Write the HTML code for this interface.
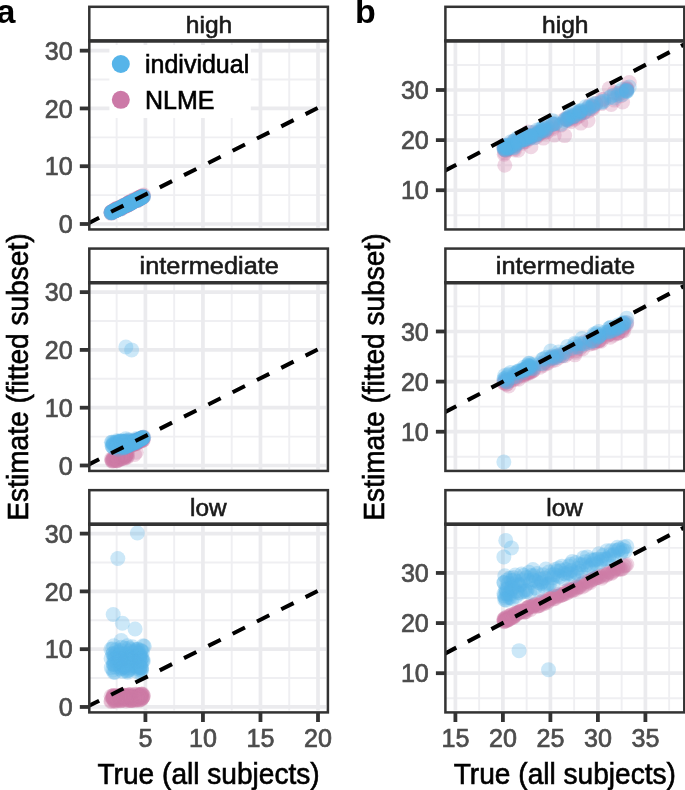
<!DOCTYPE html>
<html lang="en"><head><meta charset="utf-8"><title>Figure</title>
<style>
html,body{margin:0;padding:0;background:#fff;}
body{width:685px;height:790px;overflow:hidden;}
svg{display:block;}
</style></head><body>
<svg width="685" height="790" viewBox="0 0 685 790" font-family='"Liberation Sans", Arial, Helvetica, sans-serif'>
<rect width="685" height="790" fill="#fff"/>
<clipPath id="c1"><rect x="89.3" y="40.6" width="238.6" height="188.85"/></clipPath>
<g clip-path="url(#c1)">
<line x1="89.3" x2="326.1" y1="195.11" y2="195.11" stroke="#efeff2" stroke-width="1.9"/>
<line x1="89.3" x2="326.1" y1="137.33" y2="137.33" stroke="#efeff2" stroke-width="1.9"/>
<line x1="89.3" x2="326.1" y1="79.55" y2="79.55" stroke="#efeff2" stroke-width="1.9"/>
<line y1="40.6" y2="227.65" x1="116.66" x2="116.66" stroke="#efeff2" stroke-width="1.9"/>
<line y1="40.6" y2="227.65" x1="174.18" x2="174.18" stroke="#efeff2" stroke-width="1.9"/>
<line y1="40.6" y2="227.65" x1="231.71" x2="231.71" stroke="#efeff2" stroke-width="1.9"/>
<line y1="40.6" y2="227.65" x1="289.23" x2="289.23" stroke="#efeff2" stroke-width="1.9"/>
<line x1="89.3" x2="326.1" y1="224" y2="224" stroke="#ebebee" stroke-width="3.7"/>
<line x1="89.3" x2="326.1" y1="166.22" y2="166.22" stroke="#ebebee" stroke-width="3.7"/>
<line x1="89.3" x2="326.1" y1="108.44" y2="108.44" stroke="#ebebee" stroke-width="3.7"/>
<line x1="89.3" x2="326.1" y1="50.66" y2="50.66" stroke="#ebebee" stroke-width="3.7"/>
<line y1="40.6" y2="227.65" x1="145.42" x2="145.42" stroke="#ebebee" stroke-width="3.7"/>
<line y1="40.6" y2="227.65" x1="202.94" x2="202.94" stroke="#ebebee" stroke-width="3.7"/>
<line y1="40.6" y2="227.65" x1="260.47" x2="260.47" stroke="#ebebee" stroke-width="3.7"/>
<line y1="40.6" y2="227.65" x1="318" x2="318" stroke="#ebebee" stroke-width="3.7"/>
<circle cx="131.4" cy="202.02" r="7.5" fill="#CC79A7" fill-opacity="0.3"/>
<circle cx="140.32" cy="197.61" r="7.5" fill="#CC79A7" fill-opacity="0.3"/>
<circle cx="136.34" cy="200.08" r="7.5" fill="#CC79A7" fill-opacity="0.3"/>
<circle cx="118.29" cy="208.82" r="7.5" fill="#CC79A7" fill-opacity="0.3"/>
<circle cx="120.75" cy="208.89" r="7.5" fill="#CC79A7" fill-opacity="0.3"/>
<circle cx="139.55" cy="198.84" r="7.5" fill="#CC79A7" fill-opacity="0.3"/>
<circle cx="111.08" cy="212.11" r="7.5" fill="#CC79A7" fill-opacity="0.3"/>
<circle cx="137.83" cy="200.4" r="7.5" fill="#CC79A7" fill-opacity="0.3"/>
<circle cx="137.04" cy="198.73" r="7.5" fill="#CC79A7" fill-opacity="0.3"/>
<circle cx="126.25" cy="205.95" r="7.5" fill="#CC79A7" fill-opacity="0.3"/>
<circle cx="120.84" cy="206.93" r="7.5" fill="#CC79A7" fill-opacity="0.3"/>
<circle cx="120.03" cy="208.45" r="7.5" fill="#CC79A7" fill-opacity="0.3"/>
<circle cx="119.26" cy="207.71" r="7.5" fill="#CC79A7" fill-opacity="0.3"/>
<circle cx="125.5" cy="205.02" r="7.5" fill="#CC79A7" fill-opacity="0.3"/>
<circle cx="127.45" cy="205.2" r="7.5" fill="#CC79A7" fill-opacity="0.3"/>
<circle cx="129.05" cy="202.46" r="7.5" fill="#CC79A7" fill-opacity="0.3"/>
<circle cx="143.55" cy="195.05" r="7.5" fill="#CC79A7" fill-opacity="0.3"/>
<circle cx="136.9" cy="199.44" r="7.5" fill="#CC79A7" fill-opacity="0.3"/>
<circle cx="131.31" cy="202.39" r="7.5" fill="#CC79A7" fill-opacity="0.3"/>
<circle cx="143.33" cy="196.27" r="7.5" fill="#CC79A7" fill-opacity="0.3"/>
<circle cx="117.96" cy="209.57" r="7.5" fill="#CC79A7" fill-opacity="0.3"/>
<circle cx="116.16" cy="209.04" r="7.5" fill="#CC79A7" fill-opacity="0.3"/>
<circle cx="130.99" cy="202.73" r="7.5" fill="#CC79A7" fill-opacity="0.3"/>
<circle cx="112.35" cy="211.76" r="7.5" fill="#CC79A7" fill-opacity="0.3"/>
<circle cx="112.07" cy="212.41" r="7.5" fill="#CC79A7" fill-opacity="0.3"/>
<circle cx="127.79" cy="204.4" r="7.5" fill="#CC79A7" fill-opacity="0.3"/>
<circle cx="126.19" cy="205.65" r="7.5" fill="#CC79A7" fill-opacity="0.3"/>
<circle cx="140.98" cy="196.47" r="7.5" fill="#CC79A7" fill-opacity="0.3"/>
<circle cx="131.54" cy="202.19" r="7.5" fill="#CC79A7" fill-opacity="0.3"/>
<circle cx="127.76" cy="203.31" r="7.5" fill="#CC79A7" fill-opacity="0.3"/>
<circle cx="127.2" cy="204.25" r="7.5" fill="#CC79A7" fill-opacity="0.3"/>
<circle cx="119.02" cy="208.85" r="7.5" fill="#CC79A7" fill-opacity="0.3"/>
<circle cx="111.29" cy="212.48" r="7.5" fill="#CC79A7" fill-opacity="0.3"/>
<circle cx="117.21" cy="209.66" r="7.5" fill="#CC79A7" fill-opacity="0.3"/>
<circle cx="133.6" cy="201.04" r="7.5" fill="#CC79A7" fill-opacity="0.3"/>
<circle cx="117.48" cy="209.4" r="7.5" fill="#CC79A7" fill-opacity="0.3"/>
<circle cx="123.02" cy="206.57" r="7.5" fill="#CC79A7" fill-opacity="0.3"/>
<circle cx="111.03" cy="213.34" r="7.5" fill="#CC79A7" fill-opacity="0.3"/>
<circle cx="138.12" cy="199.33" r="7.5" fill="#CC79A7" fill-opacity="0.3"/>
<circle cx="115.97" cy="208.75" r="7.5" fill="#CC79A7" fill-opacity="0.3"/>
<circle cx="119.68" cy="208.5" r="7.5" fill="#CC79A7" fill-opacity="0.3"/>
<circle cx="139.77" cy="198.68" r="7.5" fill="#CC79A7" fill-opacity="0.3"/>
<circle cx="127.62" cy="203.82" r="7.5" fill="#CC79A7" fill-opacity="0.3"/>
<circle cx="138.68" cy="197.52" r="7.5" fill="#CC79A7" fill-opacity="0.3"/>
<circle cx="131.88" cy="202.92" r="7.5" fill="#CC79A7" fill-opacity="0.3"/>
<circle cx="135.23" cy="200.37" r="7.5" fill="#CC79A7" fill-opacity="0.3"/>
<circle cx="113.91" cy="211.38" r="7.5" fill="#CC79A7" fill-opacity="0.3"/>
<circle cx="128.65" cy="204.75" r="7.5" fill="#CC79A7" fill-opacity="0.3"/>
<circle cx="127.55" cy="203.57" r="7.5" fill="#CC79A7" fill-opacity="0.3"/>
<circle cx="139.48" cy="198.11" r="7.5" fill="#CC79A7" fill-opacity="0.3"/>
<circle cx="122.75" cy="206.45" r="7.5" fill="#CC79A7" fill-opacity="0.3"/>
<circle cx="130.52" cy="203.12" r="7.5" fill="#CC79A7" fill-opacity="0.3"/>
<circle cx="112.85" cy="211.15" r="7.5" fill="#CC79A7" fill-opacity="0.3"/>
<circle cx="123.62" cy="206.43" r="7.5" fill="#CC79A7" fill-opacity="0.3"/>
<circle cx="121.5" cy="207.22" r="7.5" fill="#CC79A7" fill-opacity="0.3"/>
<circle cx="115.83" cy="210.74" r="7.5" fill="#CC79A7" fill-opacity="0.3"/>
<circle cx="137.67" cy="199.84" r="7.5" fill="#CC79A7" fill-opacity="0.3"/>
<circle cx="123.35" cy="205.27" r="7.5" fill="#CC79A7" fill-opacity="0.3"/>
<circle cx="143" cy="196.68" r="7.5" fill="#CC79A7" fill-opacity="0.3"/>
<circle cx="130.25" cy="202.53" r="7.5" fill="#CC79A7" fill-opacity="0.3"/>
<circle cx="130.74" cy="202.5" r="7.5" fill="#CC79A7" fill-opacity="0.3"/>
<circle cx="131.82" cy="202.24" r="7.5" fill="#CC79A7" fill-opacity="0.3"/>
<circle cx="133.09" cy="201.66" r="7.5" fill="#CC79A7" fill-opacity="0.3"/>
<circle cx="115.85" cy="209.52" r="7.5" fill="#CC79A7" fill-opacity="0.3"/>
<circle cx="125.34" cy="205.4" r="7.5" fill="#CC79A7" fill-opacity="0.3"/>
<circle cx="118.76" cy="208.6" r="7.5" fill="#CC79A7" fill-opacity="0.3"/>
<circle cx="124.1" cy="205.8" r="7.5" fill="#CC79A7" fill-opacity="0.3"/>
<circle cx="114.08" cy="210.04" r="7.5" fill="#CC79A7" fill-opacity="0.3"/>
<circle cx="142.64" cy="196.03" r="7.5" fill="#CC79A7" fill-opacity="0.3"/>
<circle cx="117.95" cy="208.64" r="7.5" fill="#CC79A7" fill-opacity="0.3"/>
<circle cx="132.93" cy="201.77" r="7.5" fill="#CC79A7" fill-opacity="0.3"/>
<circle cx="120.76" cy="208.46" r="7.5" fill="#CC79A7" fill-opacity="0.3"/>
<circle cx="139.57" cy="197.39" r="7.5" fill="#CC79A7" fill-opacity="0.3"/>
<circle cx="132.62" cy="200.87" r="7.5" fill="#CC79A7" fill-opacity="0.3"/>
<circle cx="115.22" cy="210.37" r="7.5" fill="#CC79A7" fill-opacity="0.3"/>
<circle cx="138.61" cy="198.15" r="7.5" fill="#CC79A7" fill-opacity="0.3"/>
<circle cx="141.89" cy="196.34" r="7.5" fill="#CC79A7" fill-opacity="0.3"/>
<circle cx="140.54" cy="196.98" r="7.5" fill="#CC79A7" fill-opacity="0.3"/>
<circle cx="129.59" cy="202.42" r="7.5" fill="#CC79A7" fill-opacity="0.3"/>
<circle cx="115.67" cy="210.36" r="7.5" fill="#CC79A7" fill-opacity="0.3"/>
<circle cx="117.22" cy="208.22" r="7.5" fill="#CC79A7" fill-opacity="0.3"/>
<circle cx="141.33" cy="198.03" r="7.5" fill="#CC79A7" fill-opacity="0.3"/>
<circle cx="129.02" cy="202.75" r="7.5" fill="#CC79A7" fill-opacity="0.3"/>
<circle cx="116.83" cy="209.13" r="7.5" fill="#CC79A7" fill-opacity="0.3"/>
<circle cx="139.89" cy="197.28" r="7.5" fill="#CC79A7" fill-opacity="0.3"/>
<circle cx="131.94" cy="200.58" r="7.5" fill="#CC79A7" fill-opacity="0.3"/>
<circle cx="129.58" cy="202.03" r="7.5" fill="#CC79A7" fill-opacity="0.3"/>
<circle cx="123.24" cy="207.04" r="7.5" fill="#CC79A7" fill-opacity="0.3"/>
<circle cx="124.38" cy="206.85" r="7.5" fill="#CC79A7" fill-opacity="0.3"/>
<circle cx="118.76" cy="207.93" r="7.5" fill="#CC79A7" fill-opacity="0.3"/>
<circle cx="112.15" cy="212.52" r="7.5" fill="#CC79A7" fill-opacity="0.3"/>
<circle cx="139.64" cy="198.02" r="7.5" fill="#CC79A7" fill-opacity="0.3"/>
<circle cx="126.24" cy="204.16" r="7.5" fill="#CC79A7" fill-opacity="0.3"/>
<circle cx="128.86" cy="204.57" r="7.5" fill="#CC79A7" fill-opacity="0.3"/>
<circle cx="121.47" cy="208.6" r="7.5" fill="#CC79A7" fill-opacity="0.3"/>
<circle cx="135.54" cy="199.89" r="7.5" fill="#CC79A7" fill-opacity="0.3"/>
<circle cx="111.73" cy="212" r="7.5" fill="#CC79A7" fill-opacity="0.3"/>
<circle cx="123.11" cy="206.49" r="7.5" fill="#CC79A7" fill-opacity="0.3"/>
<circle cx="111.9" cy="211.92" r="7.5" fill="#CC79A7" fill-opacity="0.3"/>
<circle cx="114.93" cy="211.02" r="7.5" fill="#CC79A7" fill-opacity="0.3"/>
<circle cx="142.62" cy="197.57" r="7.5" fill="#CC79A7" fill-opacity="0.3"/>
<circle cx="132.47" cy="201.73" r="7.5" fill="#CC79A7" fill-opacity="0.3"/>
<circle cx="124.95" cy="206.07" r="7.5" fill="#CC79A7" fill-opacity="0.3"/>
<circle cx="128.08" cy="204.96" r="7.5" fill="#CC79A7" fill-opacity="0.3"/>
<circle cx="139.52" cy="197.72" r="7.5" fill="#CC79A7" fill-opacity="0.3"/>
<circle cx="122.19" cy="206.82" r="7.5" fill="#CC79A7" fill-opacity="0.3"/>
<circle cx="130.26" cy="202.44" r="7.5" fill="#CC79A7" fill-opacity="0.3"/>
<circle cx="133.32" cy="201.87" r="7.5" fill="#CC79A7" fill-opacity="0.3"/>
<circle cx="122.56" cy="207.05" r="7.5" fill="#CC79A7" fill-opacity="0.3"/>
<circle cx="127.93" cy="204.59" r="7.5" fill="#CC79A7" fill-opacity="0.3"/>
<circle cx="136" cy="200.46" r="7.5" fill="#CC79A7" fill-opacity="0.3"/>
<circle cx="140.72" cy="197.34" r="7.5" fill="#CC79A7" fill-opacity="0.3"/>
<circle cx="115.86" cy="210.5" r="7.5" fill="#CC79A7" fill-opacity="0.3"/>
<circle cx="141.51" cy="196.83" r="7.5" fill="#CC79A7" fill-opacity="0.3"/>
<circle cx="111.07" cy="212.12" r="7.5" fill="#CC79A7" fill-opacity="0.3"/>
<circle cx="135.59" cy="198.64" r="7.5" fill="#CC79A7" fill-opacity="0.3"/>
<circle cx="137.48" cy="200.06" r="7.5" fill="#CC79A7" fill-opacity="0.3"/>
<circle cx="115.39" cy="209.58" r="7.5" fill="#CC79A7" fill-opacity="0.3"/>
<circle cx="124.64" cy="205.61" r="7.5" fill="#CC79A7" fill-opacity="0.3"/>
<circle cx="137.64" cy="199.03" r="7.5" fill="#CC79A7" fill-opacity="0.3"/>
<circle cx="131.4" cy="202.94" r="7.5" fill="#56B4E9" fill-opacity="0.3"/>
<circle cx="140.32" cy="198.12" r="7.5" fill="#56B4E9" fill-opacity="0.3"/>
<circle cx="136.34" cy="199.7" r="7.5" fill="#56B4E9" fill-opacity="0.3"/>
<circle cx="118.29" cy="209.05" r="7.5" fill="#56B4E9" fill-opacity="0.3"/>
<circle cx="120.75" cy="207.76" r="7.5" fill="#56B4E9" fill-opacity="0.3"/>
<circle cx="139.55" cy="198.45" r="7.5" fill="#56B4E9" fill-opacity="0.3"/>
<circle cx="111.08" cy="212.25" r="7.5" fill="#56B4E9" fill-opacity="0.3"/>
<circle cx="137.83" cy="199.22" r="7.5" fill="#56B4E9" fill-opacity="0.3"/>
<circle cx="137.04" cy="200.37" r="7.5" fill="#56B4E9" fill-opacity="0.3"/>
<circle cx="126.25" cy="205.27" r="7.5" fill="#56B4E9" fill-opacity="0.3"/>
<circle cx="120.84" cy="208.43" r="7.5" fill="#56B4E9" fill-opacity="0.3"/>
<circle cx="120.03" cy="209.28" r="7.5" fill="#56B4E9" fill-opacity="0.3"/>
<circle cx="119.26" cy="208.72" r="7.5" fill="#56B4E9" fill-opacity="0.3"/>
<circle cx="125.5" cy="204.94" r="7.5" fill="#56B4E9" fill-opacity="0.3"/>
<circle cx="127.45" cy="204.41" r="7.5" fill="#56B4E9" fill-opacity="0.3"/>
<circle cx="129.05" cy="204.02" r="7.5" fill="#56B4E9" fill-opacity="0.3"/>
<circle cx="143.55" cy="196.67" r="7.5" fill="#56B4E9" fill-opacity="0.3"/>
<circle cx="136.9" cy="199.29" r="7.5" fill="#56B4E9" fill-opacity="0.3"/>
<circle cx="131.31" cy="202.43" r="7.5" fill="#56B4E9" fill-opacity="0.3"/>
<circle cx="143.33" cy="196.43" r="7.5" fill="#56B4E9" fill-opacity="0.3"/>
<circle cx="117.96" cy="209.21" r="7.5" fill="#56B4E9" fill-opacity="0.3"/>
<circle cx="116.16" cy="210.08" r="7.5" fill="#56B4E9" fill-opacity="0.3"/>
<circle cx="130.99" cy="202.37" r="7.5" fill="#56B4E9" fill-opacity="0.3"/>
<circle cx="112.35" cy="211.82" r="7.5" fill="#56B4E9" fill-opacity="0.3"/>
<circle cx="112.07" cy="212.07" r="7.5" fill="#56B4E9" fill-opacity="0.3"/>
<circle cx="127.79" cy="204.62" r="7.5" fill="#56B4E9" fill-opacity="0.3"/>
<circle cx="126.19" cy="204.88" r="7.5" fill="#56B4E9" fill-opacity="0.3"/>
<circle cx="140.98" cy="197.87" r="7.5" fill="#56B4E9" fill-opacity="0.3"/>
<circle cx="131.54" cy="201.99" r="7.5" fill="#56B4E9" fill-opacity="0.3"/>
<circle cx="127.76" cy="204.71" r="7.5" fill="#56B4E9" fill-opacity="0.3"/>
<circle cx="127.2" cy="204.6" r="7.5" fill="#56B4E9" fill-opacity="0.3"/>
<circle cx="119.02" cy="208.66" r="7.5" fill="#56B4E9" fill-opacity="0.3"/>
<circle cx="111.29" cy="213" r="7.5" fill="#56B4E9" fill-opacity="0.3"/>
<circle cx="117.21" cy="208.97" r="7.5" fill="#56B4E9" fill-opacity="0.3"/>
<circle cx="133.6" cy="200.83" r="7.5" fill="#56B4E9" fill-opacity="0.3"/>
<circle cx="117.48" cy="209.59" r="7.5" fill="#56B4E9" fill-opacity="0.3"/>
<circle cx="123.02" cy="206.38" r="7.5" fill="#56B4E9" fill-opacity="0.3"/>
<circle cx="111.03" cy="212.54" r="7.5" fill="#56B4E9" fill-opacity="0.3"/>
<circle cx="138.12" cy="199.97" r="7.5" fill="#56B4E9" fill-opacity="0.3"/>
<circle cx="115.97" cy="210.1" r="7.5" fill="#56B4E9" fill-opacity="0.3"/>
<circle cx="119.68" cy="208.35" r="7.5" fill="#56B4E9" fill-opacity="0.3"/>
<circle cx="139.77" cy="198.21" r="7.5" fill="#56B4E9" fill-opacity="0.3"/>
<circle cx="127.62" cy="204.71" r="7.5" fill="#56B4E9" fill-opacity="0.3"/>
<circle cx="138.68" cy="198.88" r="7.5" fill="#56B4E9" fill-opacity="0.3"/>
<circle cx="131.88" cy="202.26" r="7.5" fill="#56B4E9" fill-opacity="0.3"/>
<circle cx="135.23" cy="200.11" r="7.5" fill="#56B4E9" fill-opacity="0.3"/>
<circle cx="113.91" cy="211.11" r="7.5" fill="#56B4E9" fill-opacity="0.3"/>
<circle cx="128.65" cy="203.82" r="7.5" fill="#56B4E9" fill-opacity="0.3"/>
<circle cx="127.55" cy="203.84" r="7.5" fill="#56B4E9" fill-opacity="0.3"/>
<circle cx="139.48" cy="198.58" r="7.5" fill="#56B4E9" fill-opacity="0.3"/>
<circle cx="122.75" cy="206.92" r="7.5" fill="#56B4E9" fill-opacity="0.3"/>
<circle cx="130.52" cy="203.51" r="7.5" fill="#56B4E9" fill-opacity="0.3"/>
<circle cx="112.85" cy="211.21" r="7.5" fill="#56B4E9" fill-opacity="0.3"/>
<circle cx="123.62" cy="206.02" r="7.5" fill="#56B4E9" fill-opacity="0.3"/>
<circle cx="121.5" cy="207.1" r="7.5" fill="#56B4E9" fill-opacity="0.3"/>
<circle cx="115.83" cy="210.03" r="7.5" fill="#56B4E9" fill-opacity="0.3"/>
<circle cx="137.67" cy="199.25" r="7.5" fill="#56B4E9" fill-opacity="0.3"/>
<circle cx="123.35" cy="206.41" r="7.5" fill="#56B4E9" fill-opacity="0.3"/>
<circle cx="143" cy="196.7" r="7.5" fill="#56B4E9" fill-opacity="0.3"/>
<circle cx="130.25" cy="203.09" r="7.5" fill="#56B4E9" fill-opacity="0.3"/>
<circle cx="130.74" cy="202.75" r="7.5" fill="#56B4E9" fill-opacity="0.3"/>
<circle cx="131.82" cy="201.7" r="7.5" fill="#56B4E9" fill-opacity="0.3"/>
<circle cx="133.09" cy="201.4" r="7.5" fill="#56B4E9" fill-opacity="0.3"/>
<circle cx="115.85" cy="210.27" r="7.5" fill="#56B4E9" fill-opacity="0.3"/>
<circle cx="125.34" cy="205.68" r="7.5" fill="#56B4E9" fill-opacity="0.3"/>
<circle cx="118.76" cy="209.01" r="7.5" fill="#56B4E9" fill-opacity="0.3"/>
<circle cx="124.1" cy="205.55" r="7.5" fill="#56B4E9" fill-opacity="0.3"/>
<circle cx="114.08" cy="210.96" r="7.5" fill="#56B4E9" fill-opacity="0.3"/>
<circle cx="142.64" cy="196.77" r="7.5" fill="#56B4E9" fill-opacity="0.3"/>
<circle cx="117.95" cy="209.31" r="7.5" fill="#56B4E9" fill-opacity="0.3"/>
<circle cx="132.93" cy="202.06" r="7.5" fill="#56B4E9" fill-opacity="0.3"/>
<circle cx="120.76" cy="207.81" r="7.5" fill="#56B4E9" fill-opacity="0.3"/>
<circle cx="139.57" cy="198.04" r="7.5" fill="#56B4E9" fill-opacity="0.3"/>
<circle cx="132.62" cy="201.96" r="7.5" fill="#56B4E9" fill-opacity="0.3"/>
<circle cx="115.22" cy="210.64" r="7.5" fill="#56B4E9" fill-opacity="0.3"/>
<circle cx="138.61" cy="198.89" r="7.5" fill="#56B4E9" fill-opacity="0.3"/>
<circle cx="141.89" cy="197.13" r="7.5" fill="#56B4E9" fill-opacity="0.3"/>
<circle cx="140.54" cy="198.4" r="7.5" fill="#56B4E9" fill-opacity="0.3"/>
<circle cx="129.59" cy="203.43" r="7.5" fill="#56B4E9" fill-opacity="0.3"/>
<circle cx="115.67" cy="210.63" r="7.5" fill="#56B4E9" fill-opacity="0.3"/>
<circle cx="117.22" cy="209.26" r="7.5" fill="#56B4E9" fill-opacity="0.3"/>
<circle cx="141.33" cy="197.72" r="7.5" fill="#56B4E9" fill-opacity="0.3"/>
<circle cx="129.02" cy="203.44" r="7.5" fill="#56B4E9" fill-opacity="0.3"/>
<circle cx="116.83" cy="209.23" r="7.5" fill="#56B4E9" fill-opacity="0.3"/>
<circle cx="139.89" cy="198.28" r="7.5" fill="#56B4E9" fill-opacity="0.3"/>
<circle cx="131.94" cy="202.38" r="7.5" fill="#56B4E9" fill-opacity="0.3"/>
<circle cx="129.58" cy="203.29" r="7.5" fill="#56B4E9" fill-opacity="0.3"/>
<circle cx="123.24" cy="206.54" r="7.5" fill="#56B4E9" fill-opacity="0.3"/>
<circle cx="124.38" cy="206.31" r="7.5" fill="#56B4E9" fill-opacity="0.3"/>
<circle cx="118.76" cy="208.63" r="7.5" fill="#56B4E9" fill-opacity="0.3"/>
<circle cx="112.15" cy="211.41" r="7.5" fill="#56B4E9" fill-opacity="0.3"/>
<circle cx="139.64" cy="198.39" r="7.5" fill="#56B4E9" fill-opacity="0.3"/>
<circle cx="126.24" cy="205.1" r="7.5" fill="#56B4E9" fill-opacity="0.3"/>
<circle cx="128.86" cy="204.08" r="7.5" fill="#56B4E9" fill-opacity="0.3"/>
<circle cx="121.47" cy="207.32" r="7.5" fill="#56B4E9" fill-opacity="0.3"/>
<circle cx="135.54" cy="200.79" r="7.5" fill="#56B4E9" fill-opacity="0.3"/>
<circle cx="111.73" cy="212.7" r="7.5" fill="#56B4E9" fill-opacity="0.3"/>
<circle cx="123.11" cy="206.16" r="7.5" fill="#56B4E9" fill-opacity="0.3"/>
<circle cx="111.9" cy="212.55" r="7.5" fill="#56B4E9" fill-opacity="0.3"/>
<circle cx="114.93" cy="210.33" r="7.5" fill="#56B4E9" fill-opacity="0.3"/>
<circle cx="142.62" cy="196.28" r="7.5" fill="#56B4E9" fill-opacity="0.3"/>
<circle cx="132.47" cy="201.81" r="7.5" fill="#56B4E9" fill-opacity="0.3"/>
<circle cx="124.95" cy="205.49" r="7.5" fill="#56B4E9" fill-opacity="0.3"/>
<circle cx="128.08" cy="203.43" r="7.5" fill="#56B4E9" fill-opacity="0.3"/>
<circle cx="139.52" cy="198.43" r="7.5" fill="#56B4E9" fill-opacity="0.3"/>
<circle cx="122.19" cy="207.27" r="7.5" fill="#56B4E9" fill-opacity="0.3"/>
<circle cx="130.26" cy="203.48" r="7.5" fill="#56B4E9" fill-opacity="0.3"/>
<circle cx="133.32" cy="201.46" r="7.5" fill="#56B4E9" fill-opacity="0.3"/>
<circle cx="122.56" cy="206.37" r="7.5" fill="#56B4E9" fill-opacity="0.3"/>
<circle cx="127.93" cy="203.85" r="7.5" fill="#56B4E9" fill-opacity="0.3"/>
<circle cx="136" cy="200.46" r="7.5" fill="#56B4E9" fill-opacity="0.3"/>
<circle cx="140.72" cy="198.06" r="7.5" fill="#56B4E9" fill-opacity="0.3"/>
<circle cx="115.86" cy="210.42" r="7.5" fill="#56B4E9" fill-opacity="0.3"/>
<circle cx="141.51" cy="197.26" r="7.5" fill="#56B4E9" fill-opacity="0.3"/>
<circle cx="111.07" cy="212.72" r="7.5" fill="#56B4E9" fill-opacity="0.3"/>
<circle cx="135.59" cy="200.26" r="7.5" fill="#56B4E9" fill-opacity="0.3"/>
<circle cx="137.48" cy="199.28" r="7.5" fill="#56B4E9" fill-opacity="0.3"/>
<circle cx="115.39" cy="210.58" r="7.5" fill="#56B4E9" fill-opacity="0.3"/>
<circle cx="124.64" cy="205.85" r="7.5" fill="#56B4E9" fill-opacity="0.3"/>
<circle cx="137.64" cy="199.24" r="7.5" fill="#56B4E9" fill-opacity="0.3"/>
<line x1="86.8" y1="224" x2="317.65" y2="108.06" stroke="#000" stroke-width="4.05" stroke-dasharray="13.8 13.4"/>
<rect x="109.4" y="45" width="141.4" height="73" fill="#fff"/>
<circle cx="120.8" cy="64" r="9" fill="#56B4E9"/>
<circle cx="120.8" cy="99.8" r="9" fill="#CC79A7"/>
<text transform="translate(145 73.2)" font-size="25" text-anchor="start" fill="#000" stroke="#000" stroke-width="0.6">individual</text>
<text transform="translate(145 108.5)" font-size="25" text-anchor="start" fill="#000" stroke="#000" stroke-width="0.6">NLME</text>
</g>
<rect x="89.3" y="40.6" width="238.6" height="188.85" fill="none" stroke="#333333" stroke-width="2.5"/>
<rect x="89.3" y="6.8" width="238.6" height="33.8" fill="#fff" stroke="#333333" stroke-width="2.5"/>
<line x1="88.3" x2="328.9" y1="41" y2="41" stroke="#333333" stroke-width="3.5"/>
<text transform="translate(209 32.6) scale(1 0.972)" font-size="24.6" text-anchor="middle" fill="#1a1a1a" stroke="#1a1a1a" stroke-width="0.6">high</text>
<line x1="79.8" x2="89.3" y1="224" y2="224" stroke="#333333" stroke-width="3.8"/>
<text transform="translate(72.7 233.2) scale(1 1.02)" font-size="25.1" text-anchor="end" fill="#4d4d4d" stroke="#4d4d4d" stroke-width="0.7">0</text>
<line x1="79.8" x2="89.3" y1="166.22" y2="166.22" stroke="#333333" stroke-width="3.8"/>
<text transform="translate(72.7 175.42) scale(1 1.02)" font-size="25.1" text-anchor="end" fill="#4d4d4d" stroke="#4d4d4d" stroke-width="0.7">10</text>
<line x1="79.8" x2="89.3" y1="108.44" y2="108.44" stroke="#333333" stroke-width="3.8"/>
<text transform="translate(72.7 117.64) scale(1 1.02)" font-size="25.1" text-anchor="end" fill="#4d4d4d" stroke="#4d4d4d" stroke-width="0.7">20</text>
<line x1="79.8" x2="89.3" y1="50.66" y2="50.66" stroke="#333333" stroke-width="3.8"/>
<text transform="translate(72.7 59.86) scale(1 1.02)" font-size="25.1" text-anchor="end" fill="#4d4d4d" stroke="#4d4d4d" stroke-width="0.7">30</text>
<clipPath id="c2"><rect x="89.3" y="282.38" width="238.6" height="188.55"/></clipPath>
<g clip-path="url(#c2)">
<line x1="89.3" x2="326.1" y1="436.59" y2="436.59" stroke="#efeff2" stroke-width="1.9"/>
<line x1="89.3" x2="326.1" y1="378.81" y2="378.81" stroke="#efeff2" stroke-width="1.9"/>
<line x1="89.3" x2="326.1" y1="321.03" y2="321.03" stroke="#efeff2" stroke-width="1.9"/>
<line y1="282.38" y2="469.13" x1="116.66" x2="116.66" stroke="#efeff2" stroke-width="1.9"/>
<line y1="282.38" y2="469.13" x1="174.18" x2="174.18" stroke="#efeff2" stroke-width="1.9"/>
<line y1="282.38" y2="469.13" x1="231.71" x2="231.71" stroke="#efeff2" stroke-width="1.9"/>
<line y1="282.38" y2="469.13" x1="289.23" x2="289.23" stroke="#efeff2" stroke-width="1.9"/>
<line x1="89.3" x2="326.1" y1="465.48" y2="465.48" stroke="#ebebee" stroke-width="3.7"/>
<line x1="89.3" x2="326.1" y1="407.7" y2="407.7" stroke="#ebebee" stroke-width="3.7"/>
<line x1="89.3" x2="326.1" y1="349.92" y2="349.92" stroke="#ebebee" stroke-width="3.7"/>
<line x1="89.3" x2="326.1" y1="292.14" y2="292.14" stroke="#ebebee" stroke-width="3.7"/>
<line y1="282.38" y2="469.13" x1="145.42" x2="145.42" stroke="#ebebee" stroke-width="3.7"/>
<line y1="282.38" y2="469.13" x1="202.94" x2="202.94" stroke="#ebebee" stroke-width="3.7"/>
<line y1="282.38" y2="469.13" x1="260.47" x2="260.47" stroke="#ebebee" stroke-width="3.7"/>
<line y1="282.38" y2="469.13" x1="318" x2="318" stroke="#ebebee" stroke-width="3.7"/>
<circle cx="123.88" cy="454.72" r="7.5" fill="#CC79A7" fill-opacity="0.3"/>
<circle cx="136.84" cy="440.76" r="7.5" fill="#CC79A7" fill-opacity="0.3"/>
<circle cx="139.54" cy="441.19" r="7.5" fill="#CC79A7" fill-opacity="0.3"/>
<circle cx="116.79" cy="460.56" r="7.5" fill="#CC79A7" fill-opacity="0.3"/>
<circle cx="115.37" cy="457.33" r="7.5" fill="#CC79A7" fill-opacity="0.3"/>
<circle cx="114.62" cy="458.35" r="7.5" fill="#CC79A7" fill-opacity="0.3"/>
<circle cx="143.03" cy="440.29" r="7.5" fill="#CC79A7" fill-opacity="0.3"/>
<circle cx="141.78" cy="438.74" r="7.5" fill="#CC79A7" fill-opacity="0.3"/>
<circle cx="118.47" cy="458.86" r="7.5" fill="#CC79A7" fill-opacity="0.3"/>
<circle cx="142.71" cy="438.39" r="7.5" fill="#CC79A7" fill-opacity="0.3"/>
<circle cx="117.72" cy="456.6" r="7.5" fill="#CC79A7" fill-opacity="0.3"/>
<circle cx="127.51" cy="453.35" r="7.5" fill="#CC79A7" fill-opacity="0.3"/>
<circle cx="127.21" cy="457.18" r="7.5" fill="#CC79A7" fill-opacity="0.3"/>
<circle cx="140.91" cy="441.13" r="7.5" fill="#CC79A7" fill-opacity="0.3"/>
<circle cx="112.23" cy="459.2" r="7.5" fill="#CC79A7" fill-opacity="0.3"/>
<circle cx="121.25" cy="459.07" r="7.5" fill="#CC79A7" fill-opacity="0.3"/>
<circle cx="130.58" cy="441.85" r="7.5" fill="#CC79A7" fill-opacity="0.3"/>
<circle cx="113.08" cy="461.07" r="7.5" fill="#CC79A7" fill-opacity="0.3"/>
<circle cx="118.66" cy="455.31" r="7.5" fill="#CC79A7" fill-opacity="0.3"/>
<circle cx="126.15" cy="457" r="7.5" fill="#CC79A7" fill-opacity="0.3"/>
<circle cx="139.79" cy="439.59" r="7.5" fill="#CC79A7" fill-opacity="0.3"/>
<circle cx="135.86" cy="443.93" r="7.5" fill="#CC79A7" fill-opacity="0.3"/>
<circle cx="138.09" cy="440.53" r="7.5" fill="#CC79A7" fill-opacity="0.3"/>
<circle cx="135.86" cy="442.49" r="7.5" fill="#CC79A7" fill-opacity="0.3"/>
<circle cx="134.11" cy="443.9" r="7.5" fill="#CC79A7" fill-opacity="0.3"/>
<circle cx="138.77" cy="441.13" r="7.5" fill="#CC79A7" fill-opacity="0.3"/>
<circle cx="133.25" cy="443.98" r="7.5" fill="#CC79A7" fill-opacity="0.3"/>
<circle cx="135.03" cy="443.3" r="7.5" fill="#CC79A7" fill-opacity="0.3"/>
<circle cx="120.8" cy="455.53" r="7.5" fill="#CC79A7" fill-opacity="0.3"/>
<circle cx="116.4" cy="457.19" r="7.5" fill="#CC79A7" fill-opacity="0.3"/>
<circle cx="135.71" cy="442.13" r="7.5" fill="#CC79A7" fill-opacity="0.3"/>
<circle cx="116.34" cy="458.66" r="7.5" fill="#CC79A7" fill-opacity="0.3"/>
<circle cx="141.05" cy="440.14" r="7.5" fill="#CC79A7" fill-opacity="0.3"/>
<circle cx="130.47" cy="443.34" r="7.5" fill="#CC79A7" fill-opacity="0.3"/>
<circle cx="121.71" cy="453.91" r="7.5" fill="#CC79A7" fill-opacity="0.3"/>
<circle cx="141.62" cy="438.93" r="7.5" fill="#CC79A7" fill-opacity="0.3"/>
<circle cx="115.99" cy="460.64" r="7.5" fill="#CC79A7" fill-opacity="0.3"/>
<circle cx="127.77" cy="444.59" r="7.5" fill="#CC79A7" fill-opacity="0.3"/>
<circle cx="113.91" cy="460.19" r="7.5" fill="#CC79A7" fill-opacity="0.3"/>
<circle cx="142.56" cy="437.61" r="7.5" fill="#CC79A7" fill-opacity="0.3"/>
<circle cx="129.77" cy="446.52" r="7.5" fill="#CC79A7" fill-opacity="0.3"/>
<circle cx="137.26" cy="441.8" r="7.5" fill="#CC79A7" fill-opacity="0.3"/>
<circle cx="120.15" cy="459.06" r="7.5" fill="#CC79A7" fill-opacity="0.3"/>
<circle cx="137.2" cy="440.38" r="7.5" fill="#CC79A7" fill-opacity="0.3"/>
<circle cx="133.95" cy="442.4" r="7.5" fill="#CC79A7" fill-opacity="0.3"/>
<circle cx="132.01" cy="444.29" r="7.5" fill="#CC79A7" fill-opacity="0.3"/>
<circle cx="142.07" cy="439.08" r="7.5" fill="#CC79A7" fill-opacity="0.3"/>
<circle cx="125.12" cy="454.77" r="7.5" fill="#CC79A7" fill-opacity="0.3"/>
<circle cx="124.52" cy="456.12" r="7.5" fill="#CC79A7" fill-opacity="0.3"/>
<circle cx="133.6" cy="444.1" r="7.5" fill="#CC79A7" fill-opacity="0.3"/>
<circle cx="138.29" cy="440.11" r="7.5" fill="#CC79A7" fill-opacity="0.3"/>
<circle cx="121.89" cy="458.13" r="7.5" fill="#CC79A7" fill-opacity="0.3"/>
<circle cx="132.86" cy="442.11" r="7.5" fill="#CC79A7" fill-opacity="0.3"/>
<circle cx="117.76" cy="456.52" r="7.5" fill="#CC79A7" fill-opacity="0.3"/>
<circle cx="128.99" cy="440.7" r="7.5" fill="#CC79A7" fill-opacity="0.3"/>
<circle cx="136.13" cy="443.2" r="7.5" fill="#CC79A7" fill-opacity="0.3"/>
<circle cx="113.05" cy="458.87" r="7.5" fill="#CC79A7" fill-opacity="0.3"/>
<circle cx="134.77" cy="443.64" r="7.5" fill="#CC79A7" fill-opacity="0.3"/>
<circle cx="111.41" cy="459.09" r="7.5" fill="#CC79A7" fill-opacity="0.3"/>
<circle cx="142.33" cy="439.86" r="7.5" fill="#CC79A7" fill-opacity="0.3"/>
<circle cx="126.27" cy="453.51" r="7.5" fill="#CC79A7" fill-opacity="0.3"/>
<circle cx="124.32" cy="458.35" r="7.5" fill="#CC79A7" fill-opacity="0.3"/>
<circle cx="134.53" cy="443.71" r="7.5" fill="#CC79A7" fill-opacity="0.3"/>
<circle cx="128.06" cy="447.09" r="7.5" fill="#CC79A7" fill-opacity="0.3"/>
<circle cx="134.87" cy="442.05" r="7.5" fill="#CC79A7" fill-opacity="0.3"/>
<circle cx="113.68" cy="458.15" r="7.5" fill="#CC79A7" fill-opacity="0.3"/>
<circle cx="129.36" cy="446.24" r="7.5" fill="#CC79A7" fill-opacity="0.3"/>
<circle cx="129.2" cy="445.08" r="7.5" fill="#CC79A7" fill-opacity="0.3"/>
<circle cx="141.47" cy="439.39" r="7.5" fill="#CC79A7" fill-opacity="0.3"/>
<circle cx="112.2" cy="460.58" r="7.5" fill="#CC79A7" fill-opacity="0.3"/>
<circle cx="125.75" cy="455.98" r="7.5" fill="#CC79A7" fill-opacity="0.3"/>
<circle cx="131.6" cy="442.93" r="7.5" fill="#CC79A7" fill-opacity="0.3"/>
<circle cx="128.96" cy="445.26" r="7.5" fill="#CC79A7" fill-opacity="0.3"/>
<circle cx="113.34" cy="459.98" r="7.5" fill="#CC79A7" fill-opacity="0.3"/>
<circle cx="130.36" cy="444.4" r="7.5" fill="#CC79A7" fill-opacity="0.3"/>
<circle cx="118.19" cy="460.12" r="7.5" fill="#CC79A7" fill-opacity="0.3"/>
<circle cx="117.32" cy="460.69" r="7.5" fill="#CC79A7" fill-opacity="0.3"/>
<circle cx="139.72" cy="439.62" r="7.5" fill="#CC79A7" fill-opacity="0.3"/>
<circle cx="117.39" cy="457.56" r="7.5" fill="#CC79A7" fill-opacity="0.3"/>
<circle cx="125.8" cy="454.52" r="7.5" fill="#CC79A7" fill-opacity="0.3"/>
<circle cx="135.51" cy="443.47" r="7.5" fill="#CC79A7" fill-opacity="0.3"/>
<circle cx="134.1" cy="443.22" r="7.5" fill="#CC79A7" fill-opacity="0.3"/>
<circle cx="129.05" cy="445.6" r="7.5" fill="#CC79A7" fill-opacity="0.3"/>
<circle cx="137.37" cy="442.26" r="7.5" fill="#CC79A7" fill-opacity="0.3"/>
<circle cx="126.18" cy="454.03" r="7.5" fill="#CC79A7" fill-opacity="0.3"/>
<circle cx="131.25" cy="445.36" r="7.5" fill="#CC79A7" fill-opacity="0.3"/>
<circle cx="137.76" cy="440.73" r="7.5" fill="#CC79A7" fill-opacity="0.3"/>
<circle cx="133.14" cy="441.71" r="7.5" fill="#CC79A7" fill-opacity="0.3"/>
<circle cx="131.95" cy="442.74" r="7.5" fill="#CC79A7" fill-opacity="0.3"/>
<circle cx="124.22" cy="454.89" r="7.5" fill="#CC79A7" fill-opacity="0.3"/>
<circle cx="129.21" cy="444.5" r="7.5" fill="#CC79A7" fill-opacity="0.3"/>
<circle cx="123.89" cy="453.49" r="7.5" fill="#CC79A7" fill-opacity="0.3"/>
<circle cx="135.31" cy="441.66" r="7.5" fill="#CC79A7" fill-opacity="0.3"/>
<circle cx="123.38" cy="457.65" r="7.5" fill="#CC79A7" fill-opacity="0.3"/>
<circle cx="126.21" cy="455.03" r="7.5" fill="#CC79A7" fill-opacity="0.3"/>
<circle cx="135.68" cy="441.62" r="7.5" fill="#CC79A7" fill-opacity="0.3"/>
<circle cx="127.42" cy="455.93" r="7.5" fill="#CC79A7" fill-opacity="0.3"/>
<circle cx="121.99" cy="455.02" r="7.5" fill="#CC79A7" fill-opacity="0.3"/>
<circle cx="138.02" cy="441.4" r="7.5" fill="#CC79A7" fill-opacity="0.3"/>
<circle cx="123.4" cy="454.62" r="7.5" fill="#CC79A7" fill-opacity="0.3"/>
<circle cx="138.6" cy="441.64" r="7.5" fill="#CC79A7" fill-opacity="0.3"/>
<circle cx="136.65" cy="439.45" r="7.5" fill="#CC79A7" fill-opacity="0.3"/>
<circle cx="125.57" cy="454.14" r="7.5" fill="#CC79A7" fill-opacity="0.3"/>
<circle cx="134.28" cy="443.18" r="7.5" fill="#CC79A7" fill-opacity="0.3"/>
<circle cx="112.03" cy="461.11" r="7.5" fill="#CC79A7" fill-opacity="0.3"/>
<circle cx="123.69" cy="453.89" r="7.5" fill="#CC79A7" fill-opacity="0.3"/>
<circle cx="139.11" cy="441.72" r="7.5" fill="#CC79A7" fill-opacity="0.3"/>
<circle cx="129.91" cy="444.14" r="7.5" fill="#CC79A7" fill-opacity="0.3"/>
<circle cx="129.2" cy="445.58" r="7.5" fill="#CC79A7" fill-opacity="0.3"/>
<circle cx="132.7" cy="443.58" r="7.5" fill="#CC79A7" fill-opacity="0.3"/>
<circle cx="133.13" cy="444.35" r="7.5" fill="#CC79A7" fill-opacity="0.3"/>
<circle cx="130.04" cy="444.34" r="7.5" fill="#CC79A7" fill-opacity="0.3"/>
<circle cx="124.7" cy="454.77" r="7.5" fill="#CC79A7" fill-opacity="0.3"/>
<circle cx="116.92" cy="459.78" r="7.5" fill="#CC79A7" fill-opacity="0.3"/>
<circle cx="120.5" cy="455.92" r="7.5" fill="#CC79A7" fill-opacity="0.3"/>
<circle cx="120.51" cy="456.51" r="7.5" fill="#CC79A7" fill-opacity="0.3"/>
<circle cx="125.03" cy="455.91" r="7.5" fill="#CC79A7" fill-opacity="0.3"/>
<circle cx="143.66" cy="437.28" r="7.5" fill="#CC79A7" fill-opacity="0.3"/>
<circle cx="122.46" cy="454.3" r="7.5" fill="#CC79A7" fill-opacity="0.3"/>
<circle cx="125.57" cy="456.25" r="7.5" fill="#CC79A7" fill-opacity="0.3"/>
<circle cx="134.49" cy="454.5" r="7.5" fill="#CC79A7" fill-opacity="0.3"/>
<circle cx="136.22" cy="452.19" r="7.5" fill="#CC79A7" fill-opacity="0.3"/>
<circle cx="143.12" cy="440.06" r="7.5" fill="#CC79A7" fill-opacity="0.3"/>
<circle cx="123.88" cy="445.38" r="7.5" fill="#56B4E9" fill-opacity="0.3"/>
<circle cx="136.84" cy="440.41" r="7.5" fill="#56B4E9" fill-opacity="0.3"/>
<circle cx="139.54" cy="439.36" r="7.5" fill="#56B4E9" fill-opacity="0.3"/>
<circle cx="116.79" cy="440.71" r="7.5" fill="#56B4E9" fill-opacity="0.3"/>
<circle cx="115.37" cy="445.43" r="7.5" fill="#56B4E9" fill-opacity="0.3"/>
<circle cx="114.62" cy="447.14" r="7.5" fill="#56B4E9" fill-opacity="0.3"/>
<circle cx="143.03" cy="438.55" r="7.5" fill="#56B4E9" fill-opacity="0.3"/>
<circle cx="141.78" cy="438.15" r="7.5" fill="#56B4E9" fill-opacity="0.3"/>
<circle cx="118.47" cy="442.59" r="7.5" fill="#56B4E9" fill-opacity="0.3"/>
<circle cx="142.71" cy="437.81" r="7.5" fill="#56B4E9" fill-opacity="0.3"/>
<circle cx="117.72" cy="441.57" r="7.5" fill="#56B4E9" fill-opacity="0.3"/>
<circle cx="127.51" cy="445.75" r="7.5" fill="#56B4E9" fill-opacity="0.3"/>
<circle cx="127.21" cy="444.72" r="7.5" fill="#56B4E9" fill-opacity="0.3"/>
<circle cx="140.91" cy="439.26" r="7.5" fill="#56B4E9" fill-opacity="0.3"/>
<circle cx="112.23" cy="446.22" r="7.5" fill="#56B4E9" fill-opacity="0.3"/>
<circle cx="121.25" cy="441.32" r="7.5" fill="#56B4E9" fill-opacity="0.3"/>
<circle cx="130.58" cy="440.76" r="7.5" fill="#56B4E9" fill-opacity="0.3"/>
<circle cx="113.08" cy="444.47" r="7.5" fill="#56B4E9" fill-opacity="0.3"/>
<circle cx="118.66" cy="442.04" r="7.5" fill="#56B4E9" fill-opacity="0.3"/>
<circle cx="126.15" cy="444.81" r="7.5" fill="#56B4E9" fill-opacity="0.3"/>
<circle cx="139.79" cy="439.07" r="7.5" fill="#56B4E9" fill-opacity="0.3"/>
<circle cx="135.86" cy="442.67" r="7.5" fill="#56B4E9" fill-opacity="0.3"/>
<circle cx="138.09" cy="440.33" r="7.5" fill="#56B4E9" fill-opacity="0.3"/>
<circle cx="135.86" cy="441.14" r="7.5" fill="#56B4E9" fill-opacity="0.3"/>
<circle cx="134.11" cy="441.95" r="7.5" fill="#56B4E9" fill-opacity="0.3"/>
<circle cx="138.77" cy="439.15" r="7.5" fill="#56B4E9" fill-opacity="0.3"/>
<circle cx="133.25" cy="442.18" r="7.5" fill="#56B4E9" fill-opacity="0.3"/>
<circle cx="135.03" cy="441.66" r="7.5" fill="#56B4E9" fill-opacity="0.3"/>
<circle cx="120.8" cy="441.13" r="7.5" fill="#56B4E9" fill-opacity="0.3"/>
<circle cx="116.4" cy="444.56" r="7.5" fill="#56B4E9" fill-opacity="0.3"/>
<circle cx="135.71" cy="441.72" r="7.5" fill="#56B4E9" fill-opacity="0.3"/>
<circle cx="116.34" cy="442.61" r="7.5" fill="#56B4E9" fill-opacity="0.3"/>
<circle cx="141.05" cy="438.36" r="7.5" fill="#56B4E9" fill-opacity="0.3"/>
<circle cx="130.47" cy="442.08" r="7.5" fill="#56B4E9" fill-opacity="0.3"/>
<circle cx="121.71" cy="445.68" r="7.5" fill="#56B4E9" fill-opacity="0.3"/>
<circle cx="141.62" cy="438.52" r="7.5" fill="#56B4E9" fill-opacity="0.3"/>
<circle cx="115.99" cy="446.67" r="7.5" fill="#56B4E9" fill-opacity="0.3"/>
<circle cx="127.77" cy="444" r="7.5" fill="#56B4E9" fill-opacity="0.3"/>
<circle cx="113.91" cy="444.16" r="7.5" fill="#56B4E9" fill-opacity="0.3"/>
<circle cx="142.56" cy="437.35" r="7.5" fill="#56B4E9" fill-opacity="0.3"/>
<circle cx="129.77" cy="444.9" r="7.5" fill="#56B4E9" fill-opacity="0.3"/>
<circle cx="137.26" cy="439.94" r="7.5" fill="#56B4E9" fill-opacity="0.3"/>
<circle cx="120.15" cy="446.55" r="7.5" fill="#56B4E9" fill-opacity="0.3"/>
<circle cx="137.2" cy="440.36" r="7.5" fill="#56B4E9" fill-opacity="0.3"/>
<circle cx="133.95" cy="441.87" r="7.5" fill="#56B4E9" fill-opacity="0.3"/>
<circle cx="132.01" cy="444.02" r="7.5" fill="#56B4E9" fill-opacity="0.3"/>
<circle cx="142.07" cy="438.69" r="7.5" fill="#56B4E9" fill-opacity="0.3"/>
<circle cx="125.12" cy="441.56" r="7.5" fill="#56B4E9" fill-opacity="0.3"/>
<circle cx="124.52" cy="442.64" r="7.5" fill="#56B4E9" fill-opacity="0.3"/>
<circle cx="133.6" cy="443.23" r="7.5" fill="#56B4E9" fill-opacity="0.3"/>
<circle cx="138.29" cy="439.69" r="7.5" fill="#56B4E9" fill-opacity="0.3"/>
<circle cx="121.89" cy="445.92" r="7.5" fill="#56B4E9" fill-opacity="0.3"/>
<circle cx="132.86" cy="441.53" r="7.5" fill="#56B4E9" fill-opacity="0.3"/>
<circle cx="117.76" cy="444.73" r="7.5" fill="#56B4E9" fill-opacity="0.3"/>
<circle cx="128.99" cy="439.76" r="7.5" fill="#56B4E9" fill-opacity="0.3"/>
<circle cx="136.13" cy="441.37" r="7.5" fill="#56B4E9" fill-opacity="0.3"/>
<circle cx="113.05" cy="442.7" r="7.5" fill="#56B4E9" fill-opacity="0.3"/>
<circle cx="134.77" cy="442.18" r="7.5" fill="#56B4E9" fill-opacity="0.3"/>
<circle cx="111.41" cy="442.33" r="7.5" fill="#56B4E9" fill-opacity="0.3"/>
<circle cx="142.33" cy="438.05" r="7.5" fill="#56B4E9" fill-opacity="0.3"/>
<circle cx="126.27" cy="446.53" r="7.5" fill="#56B4E9" fill-opacity="0.3"/>
<circle cx="124.32" cy="444.69" r="7.5" fill="#56B4E9" fill-opacity="0.3"/>
<circle cx="134.53" cy="441.94" r="7.5" fill="#56B4E9" fill-opacity="0.3"/>
<circle cx="128.06" cy="445.73" r="7.5" fill="#56B4E9" fill-opacity="0.3"/>
<circle cx="134.87" cy="441.86" r="7.5" fill="#56B4E9" fill-opacity="0.3"/>
<circle cx="113.68" cy="443.18" r="7.5" fill="#56B4E9" fill-opacity="0.3"/>
<circle cx="129.36" cy="444.23" r="7.5" fill="#56B4E9" fill-opacity="0.3"/>
<circle cx="129.2" cy="445.03" r="7.5" fill="#56B4E9" fill-opacity="0.3"/>
<circle cx="141.47" cy="438.78" r="7.5" fill="#56B4E9" fill-opacity="0.3"/>
<circle cx="112.2" cy="445.96" r="7.5" fill="#56B4E9" fill-opacity="0.3"/>
<circle cx="125.75" cy="438.82" r="7.5" fill="#56B4E9" fill-opacity="0.3"/>
<circle cx="131.6" cy="442.61" r="7.5" fill="#56B4E9" fill-opacity="0.3"/>
<circle cx="128.96" cy="444.83" r="7.5" fill="#56B4E9" fill-opacity="0.3"/>
<circle cx="113.34" cy="447.58" r="7.5" fill="#56B4E9" fill-opacity="0.3"/>
<circle cx="130.36" cy="443.45" r="7.5" fill="#56B4E9" fill-opacity="0.3"/>
<circle cx="118.19" cy="449.21" r="7.5" fill="#56B4E9" fill-opacity="0.3"/>
<circle cx="117.32" cy="445.25" r="7.5" fill="#56B4E9" fill-opacity="0.3"/>
<circle cx="139.72" cy="439.4" r="7.5" fill="#56B4E9" fill-opacity="0.3"/>
<circle cx="117.39" cy="446.44" r="7.5" fill="#56B4E9" fill-opacity="0.3"/>
<circle cx="125.8" cy="441.9" r="7.5" fill="#56B4E9" fill-opacity="0.3"/>
<circle cx="135.51" cy="442.33" r="7.5" fill="#56B4E9" fill-opacity="0.3"/>
<circle cx="134.1" cy="442.94" r="7.5" fill="#56B4E9" fill-opacity="0.3"/>
<circle cx="129.05" cy="444.5" r="7.5" fill="#56B4E9" fill-opacity="0.3"/>
<circle cx="137.37" cy="440.98" r="7.5" fill="#56B4E9" fill-opacity="0.3"/>
<circle cx="126.18" cy="441.34" r="7.5" fill="#56B4E9" fill-opacity="0.3"/>
<circle cx="131.25" cy="443.61" r="7.5" fill="#56B4E9" fill-opacity="0.3"/>
<circle cx="137.76" cy="439.94" r="7.5" fill="#56B4E9" fill-opacity="0.3"/>
<circle cx="133.14" cy="440.68" r="7.5" fill="#56B4E9" fill-opacity="0.3"/>
<circle cx="131.95" cy="442.51" r="7.5" fill="#56B4E9" fill-opacity="0.3"/>
<circle cx="124.22" cy="447.65" r="7.5" fill="#56B4E9" fill-opacity="0.3"/>
<circle cx="129.21" cy="442.95" r="7.5" fill="#56B4E9" fill-opacity="0.3"/>
<circle cx="123.89" cy="443.88" r="7.5" fill="#56B4E9" fill-opacity="0.3"/>
<circle cx="135.31" cy="441.14" r="7.5" fill="#56B4E9" fill-opacity="0.3"/>
<circle cx="123.38" cy="447.21" r="7.5" fill="#56B4E9" fill-opacity="0.3"/>
<circle cx="126.21" cy="440.28" r="7.5" fill="#56B4E9" fill-opacity="0.3"/>
<circle cx="135.68" cy="440.76" r="7.5" fill="#56B4E9" fill-opacity="0.3"/>
<circle cx="127.42" cy="445.73" r="7.5" fill="#56B4E9" fill-opacity="0.3"/>
<circle cx="121.99" cy="445.88" r="7.5" fill="#56B4E9" fill-opacity="0.3"/>
<circle cx="138.02" cy="441.05" r="7.5" fill="#56B4E9" fill-opacity="0.3"/>
<circle cx="123.4" cy="441.62" r="7.5" fill="#56B4E9" fill-opacity="0.3"/>
<circle cx="138.6" cy="440.19" r="7.5" fill="#56B4E9" fill-opacity="0.3"/>
<circle cx="136.65" cy="438.41" r="7.5" fill="#56B4E9" fill-opacity="0.3"/>
<circle cx="125.57" cy="442.85" r="7.5" fill="#56B4E9" fill-opacity="0.3"/>
<circle cx="134.28" cy="442.24" r="7.5" fill="#56B4E9" fill-opacity="0.3"/>
<circle cx="112.03" cy="442.31" r="7.5" fill="#56B4E9" fill-opacity="0.3"/>
<circle cx="123.69" cy="442.75" r="7.5" fill="#56B4E9" fill-opacity="0.3"/>
<circle cx="139.11" cy="439.86" r="7.5" fill="#56B4E9" fill-opacity="0.3"/>
<circle cx="129.91" cy="443.5" r="7.5" fill="#56B4E9" fill-opacity="0.3"/>
<circle cx="129.2" cy="444.18" r="7.5" fill="#56B4E9" fill-opacity="0.3"/>
<circle cx="132.7" cy="442.75" r="7.5" fill="#56B4E9" fill-opacity="0.3"/>
<circle cx="133.13" cy="442.45" r="7.5" fill="#56B4E9" fill-opacity="0.3"/>
<circle cx="130.04" cy="442.42" r="7.5" fill="#56B4E9" fill-opacity="0.3"/>
<circle cx="124.7" cy="441.6" r="7.5" fill="#56B4E9" fill-opacity="0.3"/>
<circle cx="116.92" cy="444.38" r="7.5" fill="#56B4E9" fill-opacity="0.3"/>
<circle cx="120.5" cy="440.68" r="7.5" fill="#56B4E9" fill-opacity="0.3"/>
<circle cx="120.51" cy="441.56" r="7.5" fill="#56B4E9" fill-opacity="0.3"/>
<circle cx="125.03" cy="446.93" r="7.5" fill="#56B4E9" fill-opacity="0.3"/>
<circle cx="143.66" cy="437.18" r="7.5" fill="#56B4E9" fill-opacity="0.3"/>
<circle cx="122.46" cy="448.09" r="7.5" fill="#56B4E9" fill-opacity="0.3"/>
<circle cx="125.57" cy="446.36" r="7.5" fill="#56B4E9" fill-opacity="0.3"/>
<circle cx="134.49" cy="441.79" r="7.5" fill="#56B4E9" fill-opacity="0.3"/>
<circle cx="136.22" cy="441.21" r="7.5" fill="#56B4E9" fill-opacity="0.3"/>
<circle cx="143.12" cy="437.75" r="7.5" fill="#56B4E9" fill-opacity="0.3"/>
<circle cx="125.86" cy="347.03" r="7.5" fill="#56B4E9" fill-opacity="0.3"/>
<circle cx="131.61" cy="349.92" r="7.5" fill="#56B4E9" fill-opacity="0.3"/>
<line x1="86.8" y1="465.48" x2="317.65" y2="349.54" stroke="#000" stroke-width="4.05" stroke-dasharray="13.8 13.4"/>
</g>
<rect x="89.3" y="282.38" width="238.6" height="188.55" fill="none" stroke="#333333" stroke-width="2.5"/>
<rect x="89.3" y="248.58" width="238.6" height="33.8" fill="#fff" stroke="#333333" stroke-width="2.5"/>
<line x1="88.3" x2="328.9" y1="282.78" y2="282.78" stroke="#333333" stroke-width="3.5"/>
<text transform="translate(209.2 274.38) scale(1 0.945)" font-size="25.3" text-anchor="middle" fill="#1a1a1a" stroke="#1a1a1a" stroke-width="0.6">intermediate</text>
<line x1="79.8" x2="89.3" y1="465.48" y2="465.48" stroke="#333333" stroke-width="3.8"/>
<text transform="translate(72.7 474.68) scale(1 1.02)" font-size="25.1" text-anchor="end" fill="#4d4d4d" stroke="#4d4d4d" stroke-width="0.7">0</text>
<line x1="79.8" x2="89.3" y1="407.7" y2="407.7" stroke="#333333" stroke-width="3.8"/>
<text transform="translate(72.7 416.9) scale(1 1.02)" font-size="25.1" text-anchor="end" fill="#4d4d4d" stroke="#4d4d4d" stroke-width="0.7">10</text>
<line x1="79.8" x2="89.3" y1="349.92" y2="349.92" stroke="#333333" stroke-width="3.8"/>
<text transform="translate(72.7 359.12) scale(1 1.02)" font-size="25.1" text-anchor="end" fill="#4d4d4d" stroke="#4d4d4d" stroke-width="0.7">20</text>
<line x1="79.8" x2="89.3" y1="292.14" y2="292.14" stroke="#333333" stroke-width="3.8"/>
<text transform="translate(72.7 301.34) scale(1 1.02)" font-size="25.1" text-anchor="end" fill="#4d4d4d" stroke="#4d4d4d" stroke-width="0.7">30</text>
<clipPath id="c3"><rect x="89.3" y="523.96" width="238.6" height="188.45"/></clipPath>
<g clip-path="url(#c3)">
<line x1="89.3" x2="326.1" y1="678.07" y2="678.07" stroke="#efeff2" stroke-width="1.9"/>
<line x1="89.3" x2="326.1" y1="620.29" y2="620.29" stroke="#efeff2" stroke-width="1.9"/>
<line x1="89.3" x2="326.1" y1="562.51" y2="562.51" stroke="#efeff2" stroke-width="1.9"/>
<line y1="523.96" y2="710.61" x1="116.66" x2="116.66" stroke="#efeff2" stroke-width="1.9"/>
<line y1="523.96" y2="710.61" x1="174.18" x2="174.18" stroke="#efeff2" stroke-width="1.9"/>
<line y1="523.96" y2="710.61" x1="231.71" x2="231.71" stroke="#efeff2" stroke-width="1.9"/>
<line y1="523.96" y2="710.61" x1="289.23" x2="289.23" stroke="#efeff2" stroke-width="1.9"/>
<line x1="89.3" x2="326.1" y1="706.96" y2="706.96" stroke="#ebebee" stroke-width="3.7"/>
<line x1="89.3" x2="326.1" y1="649.18" y2="649.18" stroke="#ebebee" stroke-width="3.7"/>
<line x1="89.3" x2="326.1" y1="591.4" y2="591.4" stroke="#ebebee" stroke-width="3.7"/>
<line x1="89.3" x2="326.1" y1="533.62" y2="533.62" stroke="#ebebee" stroke-width="3.7"/>
<line y1="523.96" y2="710.61" x1="145.42" x2="145.42" stroke="#ebebee" stroke-width="3.7"/>
<line y1="523.96" y2="710.61" x1="202.94" x2="202.94" stroke="#ebebee" stroke-width="3.7"/>
<line y1="523.96" y2="710.61" x1="260.47" x2="260.47" stroke="#ebebee" stroke-width="3.7"/>
<line y1="523.96" y2="710.61" x1="318" x2="318" stroke="#ebebee" stroke-width="3.7"/>
<circle cx="122.97" cy="695.04" r="7.5" fill="#CC79A7" fill-opacity="0.3"/>
<circle cx="120.9" cy="696.4" r="7.5" fill="#CC79A7" fill-opacity="0.3"/>
<circle cx="130.65" cy="700.39" r="7.5" fill="#CC79A7" fill-opacity="0.3"/>
<circle cx="137.87" cy="695.94" r="7.5" fill="#CC79A7" fill-opacity="0.3"/>
<circle cx="141.61" cy="694.39" r="7.5" fill="#CC79A7" fill-opacity="0.3"/>
<circle cx="121.69" cy="695.07" r="7.5" fill="#CC79A7" fill-opacity="0.3"/>
<circle cx="129.58" cy="696.27" r="7.5" fill="#CC79A7" fill-opacity="0.3"/>
<circle cx="111.1" cy="696.27" r="7.5" fill="#CC79A7" fill-opacity="0.3"/>
<circle cx="123.11" cy="695.8" r="7.5" fill="#CC79A7" fill-opacity="0.3"/>
<circle cx="142.41" cy="697.9" r="7.5" fill="#CC79A7" fill-opacity="0.3"/>
<circle cx="114.8" cy="700.93" r="7.5" fill="#CC79A7" fill-opacity="0.3"/>
<circle cx="139.43" cy="695.7" r="7.5" fill="#CC79A7" fill-opacity="0.3"/>
<circle cx="132.3" cy="699.82" r="7.5" fill="#CC79A7" fill-opacity="0.3"/>
<circle cx="120.54" cy="698.83" r="7.5" fill="#CC79A7" fill-opacity="0.3"/>
<circle cx="136.42" cy="694.15" r="7.5" fill="#CC79A7" fill-opacity="0.3"/>
<circle cx="120.39" cy="697.73" r="7.5" fill="#CC79A7" fill-opacity="0.3"/>
<circle cx="140.25" cy="696.97" r="7.5" fill="#CC79A7" fill-opacity="0.3"/>
<circle cx="113.62" cy="695.6" r="7.5" fill="#CC79A7" fill-opacity="0.3"/>
<circle cx="114.81" cy="699.76" r="7.5" fill="#CC79A7" fill-opacity="0.3"/>
<circle cx="135.5" cy="694.17" r="7.5" fill="#CC79A7" fill-opacity="0.3"/>
<circle cx="125.63" cy="695.22" r="7.5" fill="#CC79A7" fill-opacity="0.3"/>
<circle cx="115.74" cy="699.2" r="7.5" fill="#CC79A7" fill-opacity="0.3"/>
<circle cx="127.74" cy="698.83" r="7.5" fill="#CC79A7" fill-opacity="0.3"/>
<circle cx="120.64" cy="700.47" r="7.5" fill="#CC79A7" fill-opacity="0.3"/>
<circle cx="128.92" cy="695.04" r="7.5" fill="#CC79A7" fill-opacity="0.3"/>
<circle cx="135.29" cy="699.35" r="7.5" fill="#CC79A7" fill-opacity="0.3"/>
<circle cx="139" cy="700.29" r="7.5" fill="#CC79A7" fill-opacity="0.3"/>
<circle cx="112.84" cy="696.01" r="7.5" fill="#CC79A7" fill-opacity="0.3"/>
<circle cx="130.33" cy="696.98" r="7.5" fill="#CC79A7" fill-opacity="0.3"/>
<circle cx="143.16" cy="695.87" r="7.5" fill="#CC79A7" fill-opacity="0.3"/>
<circle cx="125.98" cy="696.34" r="7.5" fill="#CC79A7" fill-opacity="0.3"/>
<circle cx="136.14" cy="700.22" r="7.5" fill="#CC79A7" fill-opacity="0.3"/>
<circle cx="114.09" cy="701.02" r="7.5" fill="#CC79A7" fill-opacity="0.3"/>
<circle cx="139.55" cy="697.14" r="7.5" fill="#CC79A7" fill-opacity="0.3"/>
<circle cx="129.99" cy="700.48" r="7.5" fill="#CC79A7" fill-opacity="0.3"/>
<circle cx="140.03" cy="697.09" r="7.5" fill="#CC79A7" fill-opacity="0.3"/>
<circle cx="136.71" cy="695.78" r="7.5" fill="#CC79A7" fill-opacity="0.3"/>
<circle cx="139.41" cy="696.15" r="7.5" fill="#CC79A7" fill-opacity="0.3"/>
<circle cx="112.78" cy="697.75" r="7.5" fill="#CC79A7" fill-opacity="0.3"/>
<circle cx="134.37" cy="700.29" r="7.5" fill="#CC79A7" fill-opacity="0.3"/>
<circle cx="117.36" cy="699.93" r="7.5" fill="#CC79A7" fill-opacity="0.3"/>
<circle cx="119.62" cy="695.62" r="7.5" fill="#CC79A7" fill-opacity="0.3"/>
<circle cx="121.55" cy="700.44" r="7.5" fill="#CC79A7" fill-opacity="0.3"/>
<circle cx="130.29" cy="697.4" r="7.5" fill="#CC79A7" fill-opacity="0.3"/>
<circle cx="131.49" cy="700.41" r="7.5" fill="#CC79A7" fill-opacity="0.3"/>
<circle cx="141.45" cy="694.26" r="7.5" fill="#CC79A7" fill-opacity="0.3"/>
<circle cx="111.32" cy="700.65" r="7.5" fill="#CC79A7" fill-opacity="0.3"/>
<circle cx="117.25" cy="698.84" r="7.5" fill="#CC79A7" fill-opacity="0.3"/>
<circle cx="122.77" cy="697.69" r="7.5" fill="#CC79A7" fill-opacity="0.3"/>
<circle cx="137.73" cy="695.85" r="7.5" fill="#CC79A7" fill-opacity="0.3"/>
<circle cx="128.94" cy="694.9" r="7.5" fill="#CC79A7" fill-opacity="0.3"/>
<circle cx="127.69" cy="696.24" r="7.5" fill="#CC79A7" fill-opacity="0.3"/>
<circle cx="135.83" cy="698.3" r="7.5" fill="#CC79A7" fill-opacity="0.3"/>
<circle cx="132.38" cy="700.2" r="7.5" fill="#CC79A7" fill-opacity="0.3"/>
<circle cx="120.41" cy="696.79" r="7.5" fill="#CC79A7" fill-opacity="0.3"/>
<circle cx="113.76" cy="695.44" r="7.5" fill="#CC79A7" fill-opacity="0.3"/>
<circle cx="126.06" cy="700.89" r="7.5" fill="#CC79A7" fill-opacity="0.3"/>
<circle cx="139.76" cy="695.39" r="7.5" fill="#CC79A7" fill-opacity="0.3"/>
<circle cx="130.52" cy="699.66" r="7.5" fill="#CC79A7" fill-opacity="0.3"/>
<circle cx="112.65" cy="698.75" r="7.5" fill="#CC79A7" fill-opacity="0.3"/>
<circle cx="125.33" cy="697.71" r="7.5" fill="#CC79A7" fill-opacity="0.3"/>
<circle cx="123.52" cy="697.22" r="7.5" fill="#CC79A7" fill-opacity="0.3"/>
<circle cx="130" cy="694.51" r="7.5" fill="#CC79A7" fill-opacity="0.3"/>
<circle cx="130.16" cy="696.42" r="7.5" fill="#CC79A7" fill-opacity="0.3"/>
<circle cx="142.1" cy="697.7" r="7.5" fill="#CC79A7" fill-opacity="0.3"/>
<circle cx="121.99" cy="696.66" r="7.5" fill="#CC79A7" fill-opacity="0.3"/>
<circle cx="124.29" cy="698.12" r="7.5" fill="#CC79A7" fill-opacity="0.3"/>
<circle cx="131.02" cy="698.12" r="7.5" fill="#CC79A7" fill-opacity="0.3"/>
<circle cx="139.97" cy="697.98" r="7.5" fill="#CC79A7" fill-opacity="0.3"/>
<circle cx="134.06" cy="697.46" r="7.5" fill="#CC79A7" fill-opacity="0.3"/>
<circle cx="126.34" cy="699.2" r="7.5" fill="#CC79A7" fill-opacity="0.3"/>
<circle cx="137.61" cy="698.88" r="7.5" fill="#CC79A7" fill-opacity="0.3"/>
<circle cx="126.82" cy="700.02" r="7.5" fill="#CC79A7" fill-opacity="0.3"/>
<circle cx="142.5" cy="697.38" r="7.5" fill="#CC79A7" fill-opacity="0.3"/>
<circle cx="120.17" cy="699.43" r="7.5" fill="#CC79A7" fill-opacity="0.3"/>
<circle cx="115.08" cy="696.23" r="7.5" fill="#CC79A7" fill-opacity="0.3"/>
<circle cx="138.13" cy="695" r="7.5" fill="#CC79A7" fill-opacity="0.3"/>
<circle cx="120.65" cy="699.08" r="7.5" fill="#CC79A7" fill-opacity="0.3"/>
<circle cx="138.69" cy="696.43" r="7.5" fill="#CC79A7" fill-opacity="0.3"/>
<circle cx="130.89" cy="695.02" r="7.5" fill="#CC79A7" fill-opacity="0.3"/>
<circle cx="127.59" cy="698.64" r="7.5" fill="#CC79A7" fill-opacity="0.3"/>
<circle cx="113.76" cy="698.09" r="7.5" fill="#CC79A7" fill-opacity="0.3"/>
<circle cx="136.69" cy="697.65" r="7.5" fill="#CC79A7" fill-opacity="0.3"/>
<circle cx="113.07" cy="697.52" r="7.5" fill="#CC79A7" fill-opacity="0.3"/>
<circle cx="142.55" cy="694.07" r="7.5" fill="#CC79A7" fill-opacity="0.3"/>
<circle cx="139.66" cy="699.43" r="7.5" fill="#CC79A7" fill-opacity="0.3"/>
<circle cx="120.84" cy="695.13" r="7.5" fill="#CC79A7" fill-opacity="0.3"/>
<circle cx="115.1" cy="697.32" r="7.5" fill="#CC79A7" fill-opacity="0.3"/>
<circle cx="139.95" cy="695.24" r="7.5" fill="#CC79A7" fill-opacity="0.3"/>
<circle cx="126.64" cy="696.93" r="7.5" fill="#CC79A7" fill-opacity="0.3"/>
<circle cx="115" cy="696.02" r="7.5" fill="#CC79A7" fill-opacity="0.3"/>
<circle cx="127.25" cy="698.87" r="7.5" fill="#CC79A7" fill-opacity="0.3"/>
<circle cx="119" cy="696.85" r="7.5" fill="#CC79A7" fill-opacity="0.3"/>
<circle cx="124.28" cy="699.41" r="7.5" fill="#CC79A7" fill-opacity="0.3"/>
<circle cx="131.9" cy="697.47" r="7.5" fill="#CC79A7" fill-opacity="0.3"/>
<circle cx="140.92" cy="695.92" r="7.5" fill="#CC79A7" fill-opacity="0.3"/>
<circle cx="137.17" cy="699.16" r="7.5" fill="#CC79A7" fill-opacity="0.3"/>
<circle cx="116.18" cy="701.11" r="7.5" fill="#CC79A7" fill-opacity="0.3"/>
<circle cx="126.56" cy="695.95" r="7.5" fill="#CC79A7" fill-opacity="0.3"/>
<circle cx="127.03" cy="695.81" r="7.5" fill="#CC79A7" fill-opacity="0.3"/>
<circle cx="143.35" cy="695.9" r="7.5" fill="#CC79A7" fill-opacity="0.3"/>
<circle cx="113.75" cy="699.57" r="7.5" fill="#CC79A7" fill-opacity="0.3"/>
<circle cx="127.65" cy="696.74" r="7.5" fill="#CC79A7" fill-opacity="0.3"/>
<circle cx="140.89" cy="699.72" r="7.5" fill="#CC79A7" fill-opacity="0.3"/>
<circle cx="123.98" cy="696.89" r="7.5" fill="#CC79A7" fill-opacity="0.3"/>
<circle cx="119.49" cy="697.67" r="7.5" fill="#CC79A7" fill-opacity="0.3"/>
<circle cx="129.13" cy="696.92" r="7.5" fill="#CC79A7" fill-opacity="0.3"/>
<circle cx="121.4" cy="698.39" r="7.5" fill="#CC79A7" fill-opacity="0.3"/>
<circle cx="141.3" cy="698.8" r="7.5" fill="#CC79A7" fill-opacity="0.3"/>
<circle cx="113.69" cy="697.01" r="7.5" fill="#CC79A7" fill-opacity="0.3"/>
<circle cx="117.68" cy="698.47" r="7.5" fill="#CC79A7" fill-opacity="0.3"/>
<circle cx="113.66" cy="696.88" r="7.5" fill="#CC79A7" fill-opacity="0.3"/>
<circle cx="134.25" cy="698.27" r="7.5" fill="#CC79A7" fill-opacity="0.3"/>
<circle cx="120.52" cy="700.72" r="7.5" fill="#CC79A7" fill-opacity="0.3"/>
<circle cx="140.42" cy="696.83" r="7.5" fill="#CC79A7" fill-opacity="0.3"/>
<circle cx="140.21" cy="696.33" r="7.5" fill="#CC79A7" fill-opacity="0.3"/>
<circle cx="141.61" cy="694.36" r="7.5" fill="#CC79A7" fill-opacity="0.3"/>
<circle cx="119.3" cy="695.7" r="7.5" fill="#CC79A7" fill-opacity="0.3"/>
<circle cx="110.93" cy="701.4" r="7.5" fill="#CC79A7" fill-opacity="0.3"/>
<circle cx="123.61" cy="696.22" r="7.5" fill="#CC79A7" fill-opacity="0.3"/>
<circle cx="122.97" cy="658.47" r="7.5" fill="#56B4E9" fill-opacity="0.3"/>
<circle cx="120.9" cy="662.95" r="7.5" fill="#56B4E9" fill-opacity="0.3"/>
<circle cx="130.65" cy="659.79" r="7.5" fill="#56B4E9" fill-opacity="0.3"/>
<circle cx="137.87" cy="649.35" r="7.5" fill="#56B4E9" fill-opacity="0.3"/>
<circle cx="141.61" cy="670.4" r="7.5" fill="#56B4E9" fill-opacity="0.3"/>
<circle cx="121.69" cy="657.94" r="7.5" fill="#56B4E9" fill-opacity="0.3"/>
<circle cx="129.58" cy="665.34" r="7.5" fill="#56B4E9" fill-opacity="0.3"/>
<circle cx="111.1" cy="658.39" r="7.5" fill="#56B4E9" fill-opacity="0.3"/>
<circle cx="123.11" cy="654.24" r="7.5" fill="#56B4E9" fill-opacity="0.3"/>
<circle cx="142.41" cy="659.95" r="7.5" fill="#56B4E9" fill-opacity="0.3"/>
<circle cx="114.8" cy="654.67" r="7.5" fill="#56B4E9" fill-opacity="0.3"/>
<circle cx="139.43" cy="669.69" r="7.5" fill="#56B4E9" fill-opacity="0.3"/>
<circle cx="132.3" cy="652.54" r="7.5" fill="#56B4E9" fill-opacity="0.3"/>
<circle cx="120.54" cy="663.41" r="7.5" fill="#56B4E9" fill-opacity="0.3"/>
<circle cx="136.42" cy="655.62" r="7.5" fill="#56B4E9" fill-opacity="0.3"/>
<circle cx="120.39" cy="658.42" r="7.5" fill="#56B4E9" fill-opacity="0.3"/>
<circle cx="140.25" cy="672.29" r="7.5" fill="#56B4E9" fill-opacity="0.3"/>
<circle cx="113.62" cy="664.39" r="7.5" fill="#56B4E9" fill-opacity="0.3"/>
<circle cx="114.81" cy="658.18" r="7.5" fill="#56B4E9" fill-opacity="0.3"/>
<circle cx="135.5" cy="649.7" r="7.5" fill="#56B4E9" fill-opacity="0.3"/>
<circle cx="125.63" cy="657.75" r="7.5" fill="#56B4E9" fill-opacity="0.3"/>
<circle cx="115.74" cy="657.94" r="7.5" fill="#56B4E9" fill-opacity="0.3"/>
<circle cx="127.74" cy="668.56" r="7.5" fill="#56B4E9" fill-opacity="0.3"/>
<circle cx="120.64" cy="650.48" r="7.5" fill="#56B4E9" fill-opacity="0.3"/>
<circle cx="128.92" cy="648.09" r="7.5" fill="#56B4E9" fill-opacity="0.3"/>
<circle cx="135.29" cy="659.4" r="7.5" fill="#56B4E9" fill-opacity="0.3"/>
<circle cx="139" cy="660.98" r="7.5" fill="#56B4E9" fill-opacity="0.3"/>
<circle cx="112.84" cy="669.87" r="7.5" fill="#56B4E9" fill-opacity="0.3"/>
<circle cx="130.33" cy="653.97" r="7.5" fill="#56B4E9" fill-opacity="0.3"/>
<circle cx="143.16" cy="645.71" r="7.5" fill="#56B4E9" fill-opacity="0.3"/>
<circle cx="125.98" cy="655.02" r="7.5" fill="#56B4E9" fill-opacity="0.3"/>
<circle cx="136.14" cy="651.55" r="7.5" fill="#56B4E9" fill-opacity="0.3"/>
<circle cx="114.09" cy="656.14" r="7.5" fill="#56B4E9" fill-opacity="0.3"/>
<circle cx="139.55" cy="665.84" r="7.5" fill="#56B4E9" fill-opacity="0.3"/>
<circle cx="129.99" cy="651.08" r="7.5" fill="#56B4E9" fill-opacity="0.3"/>
<circle cx="140.03" cy="667.43" r="7.5" fill="#56B4E9" fill-opacity="0.3"/>
<circle cx="136.71" cy="660.92" r="7.5" fill="#56B4E9" fill-opacity="0.3"/>
<circle cx="139.41" cy="657.81" r="7.5" fill="#56B4E9" fill-opacity="0.3"/>
<circle cx="112.78" cy="653.97" r="7.5" fill="#56B4E9" fill-opacity="0.3"/>
<circle cx="134.37" cy="656.94" r="7.5" fill="#56B4E9" fill-opacity="0.3"/>
<circle cx="117.36" cy="657.12" r="7.5" fill="#56B4E9" fill-opacity="0.3"/>
<circle cx="119.62" cy="664.42" r="7.5" fill="#56B4E9" fill-opacity="0.3"/>
<circle cx="121.55" cy="667.78" r="7.5" fill="#56B4E9" fill-opacity="0.3"/>
<circle cx="130.29" cy="659.19" r="7.5" fill="#56B4E9" fill-opacity="0.3"/>
<circle cx="131.49" cy="664.09" r="7.5" fill="#56B4E9" fill-opacity="0.3"/>
<circle cx="141.45" cy="667.89" r="7.5" fill="#56B4E9" fill-opacity="0.3"/>
<circle cx="111.32" cy="667.63" r="7.5" fill="#56B4E9" fill-opacity="0.3"/>
<circle cx="117.25" cy="662.7" r="7.5" fill="#56B4E9" fill-opacity="0.3"/>
<circle cx="122.77" cy="671.36" r="7.5" fill="#56B4E9" fill-opacity="0.3"/>
<circle cx="137.73" cy="668.14" r="7.5" fill="#56B4E9" fill-opacity="0.3"/>
<circle cx="128.94" cy="669.97" r="7.5" fill="#56B4E9" fill-opacity="0.3"/>
<circle cx="127.69" cy="658.42" r="7.5" fill="#56B4E9" fill-opacity="0.3"/>
<circle cx="135.83" cy="656.99" r="7.5" fill="#56B4E9" fill-opacity="0.3"/>
<circle cx="132.38" cy="646.82" r="7.5" fill="#56B4E9" fill-opacity="0.3"/>
<circle cx="120.41" cy="669.1" r="7.5" fill="#56B4E9" fill-opacity="0.3"/>
<circle cx="113.76" cy="663.9" r="7.5" fill="#56B4E9" fill-opacity="0.3"/>
<circle cx="126.06" cy="653.78" r="7.5" fill="#56B4E9" fill-opacity="0.3"/>
<circle cx="139.76" cy="660.96" r="7.5" fill="#56B4E9" fill-opacity="0.3"/>
<circle cx="130.52" cy="661.66" r="7.5" fill="#56B4E9" fill-opacity="0.3"/>
<circle cx="112.65" cy="648.72" r="7.5" fill="#56B4E9" fill-opacity="0.3"/>
<circle cx="125.33" cy="661.73" r="7.5" fill="#56B4E9" fill-opacity="0.3"/>
<circle cx="123.52" cy="666.93" r="7.5" fill="#56B4E9" fill-opacity="0.3"/>
<circle cx="130" cy="667.95" r="7.5" fill="#56B4E9" fill-opacity="0.3"/>
<circle cx="130.16" cy="657.45" r="7.5" fill="#56B4E9" fill-opacity="0.3"/>
<circle cx="142.1" cy="657.64" r="7.5" fill="#56B4E9" fill-opacity="0.3"/>
<circle cx="121.99" cy="668.3" r="7.5" fill="#56B4E9" fill-opacity="0.3"/>
<circle cx="124.29" cy="665.84" r="7.5" fill="#56B4E9" fill-opacity="0.3"/>
<circle cx="131.02" cy="656.18" r="7.5" fill="#56B4E9" fill-opacity="0.3"/>
<circle cx="139.97" cy="655.91" r="7.5" fill="#56B4E9" fill-opacity="0.3"/>
<circle cx="134.06" cy="663.67" r="7.5" fill="#56B4E9" fill-opacity="0.3"/>
<circle cx="126.34" cy="655.63" r="7.5" fill="#56B4E9" fill-opacity="0.3"/>
<circle cx="137.61" cy="655.95" r="7.5" fill="#56B4E9" fill-opacity="0.3"/>
<circle cx="126.82" cy="670.91" r="7.5" fill="#56B4E9" fill-opacity="0.3"/>
<circle cx="142.5" cy="661.56" r="7.5" fill="#56B4E9" fill-opacity="0.3"/>
<circle cx="120.17" cy="656.94" r="7.5" fill="#56B4E9" fill-opacity="0.3"/>
<circle cx="115.08" cy="663.22" r="7.5" fill="#56B4E9" fill-opacity="0.3"/>
<circle cx="138.13" cy="672.29" r="7.5" fill="#56B4E9" fill-opacity="0.3"/>
<circle cx="120.65" cy="661.38" r="7.5" fill="#56B4E9" fill-opacity="0.3"/>
<circle cx="138.69" cy="654.8" r="7.5" fill="#56B4E9" fill-opacity="0.3"/>
<circle cx="130.89" cy="649.54" r="7.5" fill="#56B4E9" fill-opacity="0.3"/>
<circle cx="127.59" cy="672.29" r="7.5" fill="#56B4E9" fill-opacity="0.3"/>
<circle cx="113.76" cy="645.71" r="7.5" fill="#56B4E9" fill-opacity="0.3"/>
<circle cx="136.69" cy="666.74" r="7.5" fill="#56B4E9" fill-opacity="0.3"/>
<circle cx="113.07" cy="653.5" r="7.5" fill="#56B4E9" fill-opacity="0.3"/>
<circle cx="142.55" cy="651.74" r="7.5" fill="#56B4E9" fill-opacity="0.3"/>
<circle cx="139.66" cy="653.33" r="7.5" fill="#56B4E9" fill-opacity="0.3"/>
<circle cx="120.84" cy="658.63" r="7.5" fill="#56B4E9" fill-opacity="0.3"/>
<circle cx="115.1" cy="666.96" r="7.5" fill="#56B4E9" fill-opacity="0.3"/>
<circle cx="139.95" cy="655.6" r="7.5" fill="#56B4E9" fill-opacity="0.3"/>
<circle cx="126.64" cy="664.13" r="7.5" fill="#56B4E9" fill-opacity="0.3"/>
<circle cx="115" cy="672.29" r="7.5" fill="#56B4E9" fill-opacity="0.3"/>
<circle cx="127.25" cy="645.71" r="7.5" fill="#56B4E9" fill-opacity="0.3"/>
<circle cx="119" cy="655.08" r="7.5" fill="#56B4E9" fill-opacity="0.3"/>
<circle cx="124.28" cy="648.03" r="7.5" fill="#56B4E9" fill-opacity="0.3"/>
<circle cx="131.9" cy="665.37" r="7.5" fill="#56B4E9" fill-opacity="0.3"/>
<circle cx="140.92" cy="650.25" r="7.5" fill="#56B4E9" fill-opacity="0.3"/>
<circle cx="137.17" cy="649.48" r="7.5" fill="#56B4E9" fill-opacity="0.3"/>
<circle cx="116.18" cy="649.7" r="7.5" fill="#56B4E9" fill-opacity="0.3"/>
<circle cx="126.56" cy="659.72" r="7.5" fill="#56B4E9" fill-opacity="0.3"/>
<circle cx="127.03" cy="667.22" r="7.5" fill="#56B4E9" fill-opacity="0.3"/>
<circle cx="143.35" cy="660.71" r="7.5" fill="#56B4E9" fill-opacity="0.3"/>
<circle cx="113.75" cy="672.29" r="7.5" fill="#56B4E9" fill-opacity="0.3"/>
<circle cx="127.65" cy="670.4" r="7.5" fill="#56B4E9" fill-opacity="0.3"/>
<circle cx="140.89" cy="659" r="7.5" fill="#56B4E9" fill-opacity="0.3"/>
<circle cx="123.98" cy="665.88" r="7.5" fill="#56B4E9" fill-opacity="0.3"/>
<circle cx="119.49" cy="660.63" r="7.5" fill="#56B4E9" fill-opacity="0.3"/>
<circle cx="129.13" cy="660.27" r="7.5" fill="#56B4E9" fill-opacity="0.3"/>
<circle cx="121.4" cy="647.31" r="7.5" fill="#56B4E9" fill-opacity="0.3"/>
<circle cx="141.3" cy="651.33" r="7.5" fill="#56B4E9" fill-opacity="0.3"/>
<circle cx="113.69" cy="659.87" r="7.5" fill="#56B4E9" fill-opacity="0.3"/>
<circle cx="117.68" cy="651.9" r="7.5" fill="#56B4E9" fill-opacity="0.3"/>
<circle cx="113.66" cy="664.54" r="7.5" fill="#56B4E9" fill-opacity="0.3"/>
<circle cx="134.25" cy="661.72" r="7.5" fill="#56B4E9" fill-opacity="0.3"/>
<circle cx="120.52" cy="653.8" r="7.5" fill="#56B4E9" fill-opacity="0.3"/>
<circle cx="140.42" cy="667.47" r="7.5" fill="#56B4E9" fill-opacity="0.3"/>
<circle cx="140.21" cy="661.35" r="7.5" fill="#56B4E9" fill-opacity="0.3"/>
<circle cx="141.61" cy="667.98" r="7.5" fill="#56B4E9" fill-opacity="0.3"/>
<circle cx="119.3" cy="658.83" r="7.5" fill="#56B4E9" fill-opacity="0.3"/>
<circle cx="110.93" cy="649.2" r="7.5" fill="#56B4E9" fill-opacity="0.3"/>
<circle cx="123.61" cy="664.36" r="7.5" fill="#56B4E9" fill-opacity="0.3"/>
<circle cx="113.21" cy="614.51" r="7.5" fill="#56B4E9" fill-opacity="0.3"/>
<circle cx="122.41" cy="623.18" r="7.5" fill="#56B4E9" fill-opacity="0.3"/>
<circle cx="135.07" cy="628.96" r="7.5" fill="#56B4E9" fill-opacity="0.3"/>
<circle cx="117.81" cy="558.47" r="7.5" fill="#56B4E9" fill-opacity="0.3"/>
<circle cx="137.37" cy="533.04" r="7.5" fill="#56B4E9" fill-opacity="0.3"/>
<circle cx="144.27" cy="646.29" r="7.5" fill="#56B4E9" fill-opacity="0.3"/>
<circle cx="121.26" cy="640.51" r="7.5" fill="#56B4E9" fill-opacity="0.3"/>
<line x1="86.8" y1="706.96" x2="317.65" y2="591.02" stroke="#000" stroke-width="4.05" stroke-dasharray="13.8 13.4"/>
</g>
<rect x="89.3" y="523.96" width="238.6" height="188.45" fill="none" stroke="#333333" stroke-width="2.5"/>
<rect x="89.3" y="490.16" width="238.6" height="33.8" fill="#fff" stroke="#333333" stroke-width="2.5"/>
<line x1="88.3" x2="328.9" y1="524.36" y2="524.36" stroke="#333333" stroke-width="3.5"/>
<text transform="translate(208.3 515.96) scale(1 0.98)" font-size="24.4" text-anchor="middle" fill="#1a1a1a" stroke="#1a1a1a" stroke-width="0.6">low</text>
<line x1="79.8" x2="89.3" y1="706.96" y2="706.96" stroke="#333333" stroke-width="3.8"/>
<text transform="translate(72.7 716.16) scale(1 1.02)" font-size="25.1" text-anchor="end" fill="#4d4d4d" stroke="#4d4d4d" stroke-width="0.7">0</text>
<line x1="79.8" x2="89.3" y1="649.18" y2="649.18" stroke="#333333" stroke-width="3.8"/>
<text transform="translate(72.7 658.38) scale(1 1.02)" font-size="25.1" text-anchor="end" fill="#4d4d4d" stroke="#4d4d4d" stroke-width="0.7">10</text>
<line x1="79.8" x2="89.3" y1="591.4" y2="591.4" stroke="#333333" stroke-width="3.8"/>
<text transform="translate(72.7 600.6) scale(1 1.02)" font-size="25.1" text-anchor="end" fill="#4d4d4d" stroke="#4d4d4d" stroke-width="0.7">20</text>
<line x1="79.8" x2="89.3" y1="533.62" y2="533.62" stroke="#333333" stroke-width="3.8"/>
<text transform="translate(72.7 542.82) scale(1 1.02)" font-size="25.1" text-anchor="end" fill="#4d4d4d" stroke="#4d4d4d" stroke-width="0.7">30</text>
<line x1="145.42" x2="145.42" y1="712.41" y2="722.01" stroke="#333333" stroke-width="3.8"/>
<text transform="translate(145.42 747.21) scale(1 1.02)" font-size="25.1" text-anchor="middle" fill="#4d4d4d" stroke="#4d4d4d" stroke-width="0.7">5</text>
<line x1="202.94" x2="202.94" y1="712.41" y2="722.01" stroke="#333333" stroke-width="3.8"/>
<text transform="translate(202.94 747.21) scale(1 1.02)" font-size="25.1" text-anchor="middle" fill="#4d4d4d" stroke="#4d4d4d" stroke-width="0.7">10</text>
<line x1="260.47" x2="260.47" y1="712.41" y2="722.01" stroke="#333333" stroke-width="3.8"/>
<text transform="translate(260.47 747.21) scale(1 1.02)" font-size="25.1" text-anchor="middle" fill="#4d4d4d" stroke="#4d4d4d" stroke-width="0.7">15</text>
<line x1="318" x2="318" y1="712.41" y2="722.01" stroke="#333333" stroke-width="3.8"/>
<text transform="translate(318 747.21) scale(1 1.02)" font-size="25.1" text-anchor="middle" fill="#4d4d4d" stroke="#4d4d4d" stroke-width="0.7">20</text>
<text transform="translate(208.6 783.7) scale(1 1.07)" font-size="28.1" text-anchor="middle" fill="#000" stroke="#000" stroke-width="0.6">True (all subjects)</text>
<text transform="translate(27.7 377) rotate(-90) scale(1 1.07)" font-size="28.1" text-anchor="middle" fill="#000" stroke="#000" stroke-width="0.6">Estimate (fitted subset)</text>
<text transform="translate(-3.4 23.2)" font-size="34" text-anchor="start" fill="#000" font-weight="bold">a</text>
<clipPath id="c4"><rect x="445.4" y="40.6" width="238.9" height="188.85"/></clipPath>
<g clip-path="url(#c4)">
<line x1="445.4" x2="684.3" y1="215.3" y2="215.3" stroke="#efeff2" stroke-width="1.9"/>
<line x1="445.4" x2="684.3" y1="165.18" y2="165.18" stroke="#efeff2" stroke-width="1.9"/>
<line x1="445.4" x2="684.3" y1="115.06" y2="115.06" stroke="#efeff2" stroke-width="1.9"/>
<line x1="445.4" x2="684.3" y1="64.94" y2="64.94" stroke="#efeff2" stroke-width="1.9"/>
<line y1="40.6" y2="227.65" x1="479.15" x2="479.15" stroke="#efeff2" stroke-width="1.9"/>
<line y1="40.6" y2="227.65" x1="526.65" x2="526.65" stroke="#efeff2" stroke-width="1.9"/>
<line y1="40.6" y2="227.65" x1="574.15" x2="574.15" stroke="#efeff2" stroke-width="1.9"/>
<line y1="40.6" y2="227.65" x1="621.65" x2="621.65" stroke="#efeff2" stroke-width="1.9"/>
<line y1="40.6" y2="227.65" x1="669.15" x2="669.15" stroke="#efeff2" stroke-width="1.9"/>
<line x1="445.4" x2="684.3" y1="190.24" y2="190.24" stroke="#ebebee" stroke-width="3.7"/>
<line x1="445.4" x2="684.3" y1="140.12" y2="140.12" stroke="#ebebee" stroke-width="3.7"/>
<line x1="445.4" x2="684.3" y1="90" y2="90" stroke="#ebebee" stroke-width="3.7"/>
<line y1="40.6" y2="227.65" x1="455.4" x2="455.4" stroke="#ebebee" stroke-width="3.7"/>
<line y1="40.6" y2="227.65" x1="502.9" x2="502.9" stroke="#ebebee" stroke-width="3.7"/>
<line y1="40.6" y2="227.65" x1="550.4" x2="550.4" stroke="#ebebee" stroke-width="3.7"/>
<line y1="40.6" y2="227.65" x1="597.9" x2="597.9" stroke="#ebebee" stroke-width="3.7"/>
<line y1="40.6" y2="227.65" x1="645.4" x2="645.4" stroke="#ebebee" stroke-width="3.7"/>
<circle cx="568.63" cy="120.48" r="7.5" fill="#CC79A7" fill-opacity="0.3"/>
<circle cx="538.67" cy="134.5" r="7.5" fill="#CC79A7" fill-opacity="0.3"/>
<circle cx="514.75" cy="145.89" r="7.5" fill="#CC79A7" fill-opacity="0.3"/>
<circle cx="508.16" cy="148.09" r="7.5" fill="#CC79A7" fill-opacity="0.3"/>
<circle cx="508" cy="147.57" r="7.5" fill="#CC79A7" fill-opacity="0.3"/>
<circle cx="529.52" cy="136.59" r="7.5" fill="#CC79A7" fill-opacity="0.3"/>
<circle cx="536.18" cy="137.22" r="7.5" fill="#CC79A7" fill-opacity="0.3"/>
<circle cx="614.33" cy="92.65" r="7.5" fill="#CC79A7" fill-opacity="0.3"/>
<circle cx="552.72" cy="123.99" r="7.5" fill="#CC79A7" fill-opacity="0.3"/>
<circle cx="626.56" cy="89.34" r="7.5" fill="#CC79A7" fill-opacity="0.3"/>
<circle cx="580.02" cy="113.96" r="7.5" fill="#CC79A7" fill-opacity="0.3"/>
<circle cx="510.81" cy="146.7" r="7.5" fill="#CC79A7" fill-opacity="0.3"/>
<circle cx="555.11" cy="124.08" r="7.5" fill="#CC79A7" fill-opacity="0.3"/>
<circle cx="511.77" cy="145.22" r="7.5" fill="#CC79A7" fill-opacity="0.3"/>
<circle cx="504.82" cy="152.86" r="7.5" fill="#CC79A7" fill-opacity="0.3"/>
<circle cx="617.96" cy="93.45" r="7.5" fill="#CC79A7" fill-opacity="0.3"/>
<circle cx="528.29" cy="132.12" r="7.5" fill="#CC79A7" fill-opacity="0.3"/>
<circle cx="514.12" cy="148.72" r="7.5" fill="#CC79A7" fill-opacity="0.3"/>
<circle cx="507.89" cy="145.88" r="7.5" fill="#CC79A7" fill-opacity="0.3"/>
<circle cx="569.39" cy="117.58" r="7.5" fill="#CC79A7" fill-opacity="0.3"/>
<circle cx="542.82" cy="131.35" r="7.5" fill="#CC79A7" fill-opacity="0.3"/>
<circle cx="504.01" cy="146.98" r="7.5" fill="#CC79A7" fill-opacity="0.3"/>
<circle cx="579.12" cy="116.09" r="7.5" fill="#CC79A7" fill-opacity="0.3"/>
<circle cx="520.03" cy="141.75" r="7.5" fill="#CC79A7" fill-opacity="0.3"/>
<circle cx="589.67" cy="105.57" r="7.5" fill="#CC79A7" fill-opacity="0.3"/>
<circle cx="546.35" cy="129.83" r="7.5" fill="#CC79A7" fill-opacity="0.3"/>
<circle cx="552.63" cy="127.26" r="7.5" fill="#CC79A7" fill-opacity="0.3"/>
<circle cx="542.32" cy="131.12" r="7.5" fill="#CC79A7" fill-opacity="0.3"/>
<circle cx="573.02" cy="117.51" r="7.5" fill="#CC79A7" fill-opacity="0.3"/>
<circle cx="626.45" cy="87.7" r="7.5" fill="#CC79A7" fill-opacity="0.3"/>
<circle cx="592.54" cy="109.06" r="7.5" fill="#CC79A7" fill-opacity="0.3"/>
<circle cx="506.11" cy="146.99" r="7.5" fill="#CC79A7" fill-opacity="0.3"/>
<circle cx="547.17" cy="131.61" r="7.5" fill="#CC79A7" fill-opacity="0.3"/>
<circle cx="517.96" cy="141.7" r="7.5" fill="#CC79A7" fill-opacity="0.3"/>
<circle cx="507.93" cy="148.13" r="7.5" fill="#CC79A7" fill-opacity="0.3"/>
<circle cx="514.58" cy="150.03" r="7.5" fill="#CC79A7" fill-opacity="0.3"/>
<circle cx="519.23" cy="142.48" r="7.5" fill="#CC79A7" fill-opacity="0.3"/>
<circle cx="620.86" cy="95.77" r="7.5" fill="#CC79A7" fill-opacity="0.3"/>
<circle cx="583.85" cy="112.29" r="7.5" fill="#CC79A7" fill-opacity="0.3"/>
<circle cx="601.89" cy="99.53" r="7.5" fill="#CC79A7" fill-opacity="0.3"/>
<circle cx="576.55" cy="117.19" r="7.5" fill="#CC79A7" fill-opacity="0.3"/>
<circle cx="525.92" cy="141.44" r="7.5" fill="#CC79A7" fill-opacity="0.3"/>
<circle cx="534.29" cy="132.26" r="7.5" fill="#CC79A7" fill-opacity="0.3"/>
<circle cx="540.26" cy="132.12" r="7.5" fill="#CC79A7" fill-opacity="0.3"/>
<circle cx="523.63" cy="137.18" r="7.5" fill="#CC79A7" fill-opacity="0.3"/>
<circle cx="537.9" cy="132.82" r="7.5" fill="#CC79A7" fill-opacity="0.3"/>
<circle cx="588.13" cy="111.14" r="7.5" fill="#CC79A7" fill-opacity="0.3"/>
<circle cx="506.44" cy="148.76" r="7.5" fill="#CC79A7" fill-opacity="0.3"/>
<circle cx="521.95" cy="138.63" r="7.5" fill="#CC79A7" fill-opacity="0.3"/>
<circle cx="545.11" cy="128.08" r="7.5" fill="#CC79A7" fill-opacity="0.3"/>
<circle cx="573.05" cy="116.57" r="7.5" fill="#CC79A7" fill-opacity="0.3"/>
<circle cx="568.46" cy="118.69" r="7.5" fill="#CC79A7" fill-opacity="0.3"/>
<circle cx="580.67" cy="113.14" r="7.5" fill="#CC79A7" fill-opacity="0.3"/>
<circle cx="508.1" cy="149.02" r="7.5" fill="#CC79A7" fill-opacity="0.3"/>
<circle cx="513.41" cy="141.29" r="7.5" fill="#CC79A7" fill-opacity="0.3"/>
<circle cx="525.22" cy="139.57" r="7.5" fill="#CC79A7" fill-opacity="0.3"/>
<circle cx="522.46" cy="143.25" r="7.5" fill="#CC79A7" fill-opacity="0.3"/>
<circle cx="585.59" cy="111.53" r="7.5" fill="#CC79A7" fill-opacity="0.3"/>
<circle cx="627.05" cy="89.09" r="7.5" fill="#CC79A7" fill-opacity="0.3"/>
<circle cx="574.11" cy="114.74" r="7.5" fill="#CC79A7" fill-opacity="0.3"/>
<circle cx="504.6" cy="149.79" r="7.5" fill="#CC79A7" fill-opacity="0.3"/>
<circle cx="524.05" cy="141.53" r="7.5" fill="#CC79A7" fill-opacity="0.3"/>
<circle cx="593.41" cy="106.73" r="7.5" fill="#CC79A7" fill-opacity="0.3"/>
<circle cx="614.45" cy="100.11" r="7.5" fill="#CC79A7" fill-opacity="0.3"/>
<circle cx="560.96" cy="125.08" r="7.5" fill="#CC79A7" fill-opacity="0.3"/>
<circle cx="529.49" cy="135.89" r="7.5" fill="#CC79A7" fill-opacity="0.3"/>
<circle cx="530.19" cy="138.19" r="7.5" fill="#CC79A7" fill-opacity="0.3"/>
<circle cx="566.59" cy="118.91" r="7.5" fill="#CC79A7" fill-opacity="0.3"/>
<circle cx="603.83" cy="99.26" r="7.5" fill="#CC79A7" fill-opacity="0.3"/>
<circle cx="528.61" cy="136.62" r="7.5" fill="#CC79A7" fill-opacity="0.3"/>
<circle cx="514.21" cy="144.84" r="7.5" fill="#CC79A7" fill-opacity="0.3"/>
<circle cx="503.87" cy="145.48" r="7.5" fill="#CC79A7" fill-opacity="0.3"/>
<circle cx="510.19" cy="145.44" r="7.5" fill="#CC79A7" fill-opacity="0.3"/>
<circle cx="601.58" cy="103.58" r="7.5" fill="#CC79A7" fill-opacity="0.3"/>
<circle cx="565.28" cy="118.81" r="7.5" fill="#CC79A7" fill-opacity="0.3"/>
<circle cx="626.56" cy="89.99" r="7.5" fill="#CC79A7" fill-opacity="0.3"/>
<circle cx="506.13" cy="150.54" r="7.5" fill="#CC79A7" fill-opacity="0.3"/>
<circle cx="531.41" cy="136.46" r="7.5" fill="#CC79A7" fill-opacity="0.3"/>
<circle cx="592.18" cy="107.71" r="7.5" fill="#CC79A7" fill-opacity="0.3"/>
<circle cx="570.76" cy="121.73" r="7.5" fill="#CC79A7" fill-opacity="0.3"/>
<circle cx="505.99" cy="149.2" r="7.5" fill="#CC79A7" fill-opacity="0.3"/>
<circle cx="535.5" cy="135.22" r="7.5" fill="#CC79A7" fill-opacity="0.3"/>
<circle cx="567.22" cy="120.29" r="7.5" fill="#CC79A7" fill-opacity="0.3"/>
<circle cx="574.83" cy="119.11" r="7.5" fill="#CC79A7" fill-opacity="0.3"/>
<circle cx="541.63" cy="132.42" r="7.5" fill="#CC79A7" fill-opacity="0.3"/>
<circle cx="514.01" cy="145.07" r="7.5" fill="#CC79A7" fill-opacity="0.3"/>
<circle cx="621.99" cy="92.82" r="7.5" fill="#CC79A7" fill-opacity="0.3"/>
<circle cx="543.5" cy="133.13" r="7.5" fill="#CC79A7" fill-opacity="0.3"/>
<circle cx="579.46" cy="112.19" r="7.5" fill="#CC79A7" fill-opacity="0.3"/>
<circle cx="552.53" cy="128.96" r="7.5" fill="#CC79A7" fill-opacity="0.3"/>
<circle cx="506.7" cy="148.96" r="7.5" fill="#CC79A7" fill-opacity="0.3"/>
<circle cx="518.18" cy="140.29" r="7.5" fill="#CC79A7" fill-opacity="0.3"/>
<circle cx="505.82" cy="150.35" r="7.5" fill="#CC79A7" fill-opacity="0.3"/>
<circle cx="514.22" cy="145.93" r="7.5" fill="#CC79A7" fill-opacity="0.3"/>
<circle cx="515" cy="142.3" r="7.5" fill="#CC79A7" fill-opacity="0.3"/>
<circle cx="537.1" cy="134.66" r="7.5" fill="#CC79A7" fill-opacity="0.3"/>
<circle cx="526.56" cy="139.56" r="7.5" fill="#CC79A7" fill-opacity="0.3"/>
<circle cx="531.02" cy="136.34" r="7.5" fill="#CC79A7" fill-opacity="0.3"/>
<circle cx="595.73" cy="103.5" r="7.5" fill="#CC79A7" fill-opacity="0.3"/>
<circle cx="504.24" cy="154.22" r="7.5" fill="#CC79A7" fill-opacity="0.3"/>
<circle cx="504.8" cy="165.18" r="7.5" fill="#CC79A7" fill-opacity="0.3"/>
<circle cx="530.92" cy="146.79" r="7.5" fill="#CC79A7" fill-opacity="0.3"/>
<circle cx="543.27" cy="138.12" r="7.5" fill="#CC79A7" fill-opacity="0.3"/>
<circle cx="564.65" cy="135.61" r="7.5" fill="#CC79A7" fill-opacity="0.3"/>
<circle cx="580.8" cy="123.08" r="7.5" fill="#CC79A7" fill-opacity="0.3"/>
<circle cx="588.02" cy="120.57" r="7.5" fill="#CC79A7" fill-opacity="0.3"/>
<circle cx="611.2" cy="104.53" r="7.5" fill="#CC79A7" fill-opacity="0.3"/>
<circle cx="622.6" cy="102.03" r="7.5" fill="#CC79A7" fill-opacity="0.3"/>
<circle cx="609.3" cy="88.5" r="7.5" fill="#CC79A7" fill-opacity="0.3"/>
<circle cx="629.25" cy="82.48" r="7.5" fill="#CC79A7" fill-opacity="0.3"/>
<circle cx="518.1" cy="150.14" r="7.5" fill="#CC79A7" fill-opacity="0.3"/>
<circle cx="554.2" cy="135.11" r="7.5" fill="#CC79A7" fill-opacity="0.3"/>
<circle cx="568.63" cy="118.82" r="7.5" fill="#56B4E9" fill-opacity="0.3"/>
<circle cx="538.67" cy="133.58" r="7.5" fill="#56B4E9" fill-opacity="0.3"/>
<circle cx="514.75" cy="145.24" r="7.5" fill="#56B4E9" fill-opacity="0.3"/>
<circle cx="508.16" cy="147.97" r="7.5" fill="#56B4E9" fill-opacity="0.3"/>
<circle cx="508" cy="148.01" r="7.5" fill="#56B4E9" fill-opacity="0.3"/>
<circle cx="529.52" cy="135.43" r="7.5" fill="#56B4E9" fill-opacity="0.3"/>
<circle cx="536.18" cy="134.55" r="7.5" fill="#56B4E9" fill-opacity="0.3"/>
<circle cx="614.33" cy="94.97" r="7.5" fill="#56B4E9" fill-opacity="0.3"/>
<circle cx="552.72" cy="124.07" r="7.5" fill="#56B4E9" fill-opacity="0.3"/>
<circle cx="626.56" cy="90.75" r="7.5" fill="#56B4E9" fill-opacity="0.3"/>
<circle cx="580.02" cy="111.46" r="7.5" fill="#56B4E9" fill-opacity="0.3"/>
<circle cx="510.81" cy="141.82" r="7.5" fill="#56B4E9" fill-opacity="0.3"/>
<circle cx="555.11" cy="123.08" r="7.5" fill="#56B4E9" fill-opacity="0.3"/>
<circle cx="511.77" cy="145.8" r="7.5" fill="#56B4E9" fill-opacity="0.3"/>
<circle cx="504.82" cy="148.03" r="7.5" fill="#56B4E9" fill-opacity="0.3"/>
<circle cx="617.96" cy="95.25" r="7.5" fill="#56B4E9" fill-opacity="0.3"/>
<circle cx="528.29" cy="136.08" r="7.5" fill="#56B4E9" fill-opacity="0.3"/>
<circle cx="514.12" cy="141.74" r="7.5" fill="#56B4E9" fill-opacity="0.3"/>
<circle cx="507.89" cy="148.02" r="7.5" fill="#56B4E9" fill-opacity="0.3"/>
<circle cx="569.39" cy="117.24" r="7.5" fill="#56B4E9" fill-opacity="0.3"/>
<circle cx="542.82" cy="127.45" r="7.5" fill="#56B4E9" fill-opacity="0.3"/>
<circle cx="504.01" cy="149.26" r="7.5" fill="#56B4E9" fill-opacity="0.3"/>
<circle cx="579.12" cy="111.79" r="7.5" fill="#56B4E9" fill-opacity="0.3"/>
<circle cx="520.03" cy="142.57" r="7.5" fill="#56B4E9" fill-opacity="0.3"/>
<circle cx="589.67" cy="108.67" r="7.5" fill="#56B4E9" fill-opacity="0.3"/>
<circle cx="546.35" cy="128.91" r="7.5" fill="#56B4E9" fill-opacity="0.3"/>
<circle cx="552.63" cy="120.75" r="7.5" fill="#56B4E9" fill-opacity="0.3"/>
<circle cx="542.32" cy="130.64" r="7.5" fill="#56B4E9" fill-opacity="0.3"/>
<circle cx="573.02" cy="116.1" r="7.5" fill="#56B4E9" fill-opacity="0.3"/>
<circle cx="626.45" cy="90.45" r="7.5" fill="#56B4E9" fill-opacity="0.3"/>
<circle cx="592.54" cy="106.01" r="7.5" fill="#56B4E9" fill-opacity="0.3"/>
<circle cx="506.11" cy="146.03" r="7.5" fill="#56B4E9" fill-opacity="0.3"/>
<circle cx="547.17" cy="127.17" r="7.5" fill="#56B4E9" fill-opacity="0.3"/>
<circle cx="517.96" cy="137.66" r="7.5" fill="#56B4E9" fill-opacity="0.3"/>
<circle cx="507.93" cy="146" r="7.5" fill="#56B4E9" fill-opacity="0.3"/>
<circle cx="514.58" cy="140.45" r="7.5" fill="#56B4E9" fill-opacity="0.3"/>
<circle cx="519.23" cy="140.44" r="7.5" fill="#56B4E9" fill-opacity="0.3"/>
<circle cx="620.86" cy="90.92" r="7.5" fill="#56B4E9" fill-opacity="0.3"/>
<circle cx="583.85" cy="112.62" r="7.5" fill="#56B4E9" fill-opacity="0.3"/>
<circle cx="601.89" cy="101.44" r="7.5" fill="#56B4E9" fill-opacity="0.3"/>
<circle cx="576.55" cy="113.52" r="7.5" fill="#56B4E9" fill-opacity="0.3"/>
<circle cx="525.92" cy="138.21" r="7.5" fill="#56B4E9" fill-opacity="0.3"/>
<circle cx="534.29" cy="137.82" r="7.5" fill="#56B4E9" fill-opacity="0.3"/>
<circle cx="540.26" cy="129.17" r="7.5" fill="#56B4E9" fill-opacity="0.3"/>
<circle cx="523.63" cy="139.59" r="7.5" fill="#56B4E9" fill-opacity="0.3"/>
<circle cx="537.9" cy="132.82" r="7.5" fill="#56B4E9" fill-opacity="0.3"/>
<circle cx="588.13" cy="108.3" r="7.5" fill="#56B4E9" fill-opacity="0.3"/>
<circle cx="506.44" cy="147.55" r="7.5" fill="#56B4E9" fill-opacity="0.3"/>
<circle cx="521.95" cy="138.88" r="7.5" fill="#56B4E9" fill-opacity="0.3"/>
<circle cx="545.11" cy="130.94" r="7.5" fill="#56B4E9" fill-opacity="0.3"/>
<circle cx="573.05" cy="116.84" r="7.5" fill="#56B4E9" fill-opacity="0.3"/>
<circle cx="568.46" cy="116.73" r="7.5" fill="#56B4E9" fill-opacity="0.3"/>
<circle cx="580.67" cy="111.13" r="7.5" fill="#56B4E9" fill-opacity="0.3"/>
<circle cx="508.1" cy="147.04" r="7.5" fill="#56B4E9" fill-opacity="0.3"/>
<circle cx="513.41" cy="144.86" r="7.5" fill="#56B4E9" fill-opacity="0.3"/>
<circle cx="525.22" cy="139.67" r="7.5" fill="#56B4E9" fill-opacity="0.3"/>
<circle cx="522.46" cy="139.53" r="7.5" fill="#56B4E9" fill-opacity="0.3"/>
<circle cx="585.59" cy="106.79" r="7.5" fill="#56B4E9" fill-opacity="0.3"/>
<circle cx="627.05" cy="91.1" r="7.5" fill="#56B4E9" fill-opacity="0.3"/>
<circle cx="574.11" cy="111.66" r="7.5" fill="#56B4E9" fill-opacity="0.3"/>
<circle cx="504.6" cy="146.4" r="7.5" fill="#56B4E9" fill-opacity="0.3"/>
<circle cx="524.05" cy="139.51" r="7.5" fill="#56B4E9" fill-opacity="0.3"/>
<circle cx="593.41" cy="103.79" r="7.5" fill="#56B4E9" fill-opacity="0.3"/>
<circle cx="614.45" cy="97.95" r="7.5" fill="#56B4E9" fill-opacity="0.3"/>
<circle cx="560.96" cy="124.19" r="7.5" fill="#56B4E9" fill-opacity="0.3"/>
<circle cx="529.49" cy="138.49" r="7.5" fill="#56B4E9" fill-opacity="0.3"/>
<circle cx="530.19" cy="136.48" r="7.5" fill="#56B4E9" fill-opacity="0.3"/>
<circle cx="566.59" cy="118.8" r="7.5" fill="#56B4E9" fill-opacity="0.3"/>
<circle cx="603.83" cy="101.24" r="7.5" fill="#56B4E9" fill-opacity="0.3"/>
<circle cx="528.61" cy="136.26" r="7.5" fill="#56B4E9" fill-opacity="0.3"/>
<circle cx="514.21" cy="147.45" r="7.5" fill="#56B4E9" fill-opacity="0.3"/>
<circle cx="503.87" cy="147.42" r="7.5" fill="#56B4E9" fill-opacity="0.3"/>
<circle cx="510.19" cy="148.02" r="7.5" fill="#56B4E9" fill-opacity="0.3"/>
<circle cx="601.58" cy="102.6" r="7.5" fill="#56B4E9" fill-opacity="0.3"/>
<circle cx="565.28" cy="119.6" r="7.5" fill="#56B4E9" fill-opacity="0.3"/>
<circle cx="626.56" cy="91.53" r="7.5" fill="#56B4E9" fill-opacity="0.3"/>
<circle cx="506.13" cy="149.88" r="7.5" fill="#56B4E9" fill-opacity="0.3"/>
<circle cx="531.41" cy="137.02" r="7.5" fill="#56B4E9" fill-opacity="0.3"/>
<circle cx="592.18" cy="105.89" r="7.5" fill="#56B4E9" fill-opacity="0.3"/>
<circle cx="570.76" cy="115.05" r="7.5" fill="#56B4E9" fill-opacity="0.3"/>
<circle cx="505.99" cy="146.26" r="7.5" fill="#56B4E9" fill-opacity="0.3"/>
<circle cx="535.5" cy="135.03" r="7.5" fill="#56B4E9" fill-opacity="0.3"/>
<circle cx="567.22" cy="119.39" r="7.5" fill="#56B4E9" fill-opacity="0.3"/>
<circle cx="574.83" cy="115.97" r="7.5" fill="#56B4E9" fill-opacity="0.3"/>
<circle cx="541.63" cy="129.33" r="7.5" fill="#56B4E9" fill-opacity="0.3"/>
<circle cx="514.01" cy="147.36" r="7.5" fill="#56B4E9" fill-opacity="0.3"/>
<circle cx="621.99" cy="89.16" r="7.5" fill="#56B4E9" fill-opacity="0.3"/>
<circle cx="543.5" cy="130.21" r="7.5" fill="#56B4E9" fill-opacity="0.3"/>
<circle cx="579.46" cy="113.48" r="7.5" fill="#56B4E9" fill-opacity="0.3"/>
<circle cx="552.53" cy="124.3" r="7.5" fill="#56B4E9" fill-opacity="0.3"/>
<circle cx="506.7" cy="145.03" r="7.5" fill="#56B4E9" fill-opacity="0.3"/>
<circle cx="518.18" cy="140.82" r="7.5" fill="#56B4E9" fill-opacity="0.3"/>
<circle cx="505.82" cy="145.42" r="7.5" fill="#56B4E9" fill-opacity="0.3"/>
<circle cx="514.22" cy="143.12" r="7.5" fill="#56B4E9" fill-opacity="0.3"/>
<circle cx="515" cy="140.66" r="7.5" fill="#56B4E9" fill-opacity="0.3"/>
<circle cx="537.1" cy="130" r="7.5" fill="#56B4E9" fill-opacity="0.3"/>
<circle cx="526.56" cy="137.63" r="7.5" fill="#56B4E9" fill-opacity="0.3"/>
<circle cx="531.02" cy="132.55" r="7.5" fill="#56B4E9" fill-opacity="0.3"/>
<circle cx="595.73" cy="103.84" r="7.5" fill="#56B4E9" fill-opacity="0.3"/>
<circle cx="504.24" cy="148.02" r="7.5" fill="#56B4E9" fill-opacity="0.3"/>
<circle cx="504.8" cy="149.3" r="7.5" fill="#56B4E9" fill-opacity="0.3"/>
<circle cx="530.92" cy="135.77" r="7.5" fill="#56B4E9" fill-opacity="0.3"/>
<circle cx="543.27" cy="128.23" r="7.5" fill="#56B4E9" fill-opacity="0.3"/>
<circle cx="564.65" cy="121.09" r="7.5" fill="#56B4E9" fill-opacity="0.3"/>
<circle cx="580.8" cy="110.37" r="7.5" fill="#56B4E9" fill-opacity="0.3"/>
<circle cx="588.02" cy="107.35" r="7.5" fill="#56B4E9" fill-opacity="0.3"/>
<circle cx="611.2" cy="96.3" r="7.5" fill="#56B4E9" fill-opacity="0.3"/>
<circle cx="622.6" cy="94.55" r="7.5" fill="#56B4E9" fill-opacity="0.3"/>
<circle cx="609.3" cy="97.79" r="7.5" fill="#56B4E9" fill-opacity="0.3"/>
<circle cx="629.25" cy="87.06" r="7.5" fill="#56B4E9" fill-opacity="0.3"/>
<circle cx="518.1" cy="142.66" r="7.5" fill="#56B4E9" fill-opacity="0.3"/>
<circle cx="554.2" cy="124.01" r="7.5" fill="#56B4E9" fill-opacity="0.3"/>
<line x1="444" y1="171.19" x2="740.4" y2="14.82" stroke="#000" stroke-width="4.05" stroke-dasharray="13.9 12.9"/>
</g>
<rect x="445.4" y="40.6" width="238.9" height="188.85" fill="none" stroke="#333333" stroke-width="2.5"/>
<rect x="445.4" y="6.8" width="238.9" height="33.8" fill="#fff" stroke="#333333" stroke-width="2.5"/>
<line x1="444.4" x2="685.3" y1="41" y2="41" stroke="#333333" stroke-width="3.5"/>
<text transform="translate(565.25 32.6) scale(1 0.972)" font-size="24.6" text-anchor="middle" fill="#1a1a1a" stroke="#1a1a1a" stroke-width="0.6">high</text>
<line x1="435.9" x2="445.4" y1="190.24" y2="190.24" stroke="#333333" stroke-width="3.8"/>
<text transform="translate(428.8 199.44) scale(1 1.02)" font-size="25.1" text-anchor="end" fill="#4d4d4d" stroke="#4d4d4d" stroke-width="0.7">10</text>
<line x1="435.9" x2="445.4" y1="140.12" y2="140.12" stroke="#333333" stroke-width="3.8"/>
<text transform="translate(428.8 149.32) scale(1 1.02)" font-size="25.1" text-anchor="end" fill="#4d4d4d" stroke="#4d4d4d" stroke-width="0.7">20</text>
<line x1="435.9" x2="445.4" y1="90" y2="90" stroke="#333333" stroke-width="3.8"/>
<text transform="translate(428.8 99.2) scale(1 1.02)" font-size="25.1" text-anchor="end" fill="#4d4d4d" stroke="#4d4d4d" stroke-width="0.7">30</text>
<clipPath id="c5"><rect x="445.4" y="282.38" width="238.9" height="188.55"/></clipPath>
<g clip-path="url(#c5)">
<line x1="445.4" x2="684.3" y1="456.78" y2="456.78" stroke="#efeff2" stroke-width="1.9"/>
<line x1="445.4" x2="684.3" y1="406.66" y2="406.66" stroke="#efeff2" stroke-width="1.9"/>
<line x1="445.4" x2="684.3" y1="356.54" y2="356.54" stroke="#efeff2" stroke-width="1.9"/>
<line x1="445.4" x2="684.3" y1="306.42" y2="306.42" stroke="#efeff2" stroke-width="1.9"/>
<line y1="282.38" y2="469.13" x1="479.15" x2="479.15" stroke="#efeff2" stroke-width="1.9"/>
<line y1="282.38" y2="469.13" x1="526.65" x2="526.65" stroke="#efeff2" stroke-width="1.9"/>
<line y1="282.38" y2="469.13" x1="574.15" x2="574.15" stroke="#efeff2" stroke-width="1.9"/>
<line y1="282.38" y2="469.13" x1="621.65" x2="621.65" stroke="#efeff2" stroke-width="1.9"/>
<line y1="282.38" y2="469.13" x1="669.15" x2="669.15" stroke="#efeff2" stroke-width="1.9"/>
<line x1="445.4" x2="684.3" y1="431.72" y2="431.72" stroke="#ebebee" stroke-width="3.7"/>
<line x1="445.4" x2="684.3" y1="381.6" y2="381.6" stroke="#ebebee" stroke-width="3.7"/>
<line x1="445.4" x2="684.3" y1="331.48" y2="331.48" stroke="#ebebee" stroke-width="3.7"/>
<line y1="282.38" y2="469.13" x1="455.4" x2="455.4" stroke="#ebebee" stroke-width="3.7"/>
<line y1="282.38" y2="469.13" x1="502.9" x2="502.9" stroke="#ebebee" stroke-width="3.7"/>
<line y1="282.38" y2="469.13" x1="550.4" x2="550.4" stroke="#ebebee" stroke-width="3.7"/>
<line y1="282.38" y2="469.13" x1="597.9" x2="597.9" stroke="#ebebee" stroke-width="3.7"/>
<line y1="282.38" y2="469.13" x1="645.4" x2="645.4" stroke="#ebebee" stroke-width="3.7"/>
<circle cx="547.73" cy="363.21" r="7.5" fill="#CC79A7" fill-opacity="0.3"/>
<circle cx="506.46" cy="384.2" r="7.5" fill="#CC79A7" fill-opacity="0.3"/>
<circle cx="610.1" cy="333.37" r="7.5" fill="#CC79A7" fill-opacity="0.3"/>
<circle cx="574.81" cy="354.86" r="7.5" fill="#CC79A7" fill-opacity="0.3"/>
<circle cx="531.86" cy="371.41" r="7.5" fill="#CC79A7" fill-opacity="0.3"/>
<circle cx="599.93" cy="340" r="7.5" fill="#CC79A7" fill-opacity="0.3"/>
<circle cx="592.38" cy="343.22" r="7.5" fill="#CC79A7" fill-opacity="0.3"/>
<circle cx="527.06" cy="372.14" r="7.5" fill="#CC79A7" fill-opacity="0.3"/>
<circle cx="600.9" cy="341.21" r="7.5" fill="#CC79A7" fill-opacity="0.3"/>
<circle cx="615.36" cy="330.91" r="7.5" fill="#CC79A7" fill-opacity="0.3"/>
<circle cx="564.59" cy="355.83" r="7.5" fill="#CC79A7" fill-opacity="0.3"/>
<circle cx="529.82" cy="372.79" r="7.5" fill="#CC79A7" fill-opacity="0.3"/>
<circle cx="610.21" cy="337.2" r="7.5" fill="#CC79A7" fill-opacity="0.3"/>
<circle cx="617.79" cy="333.34" r="7.5" fill="#CC79A7" fill-opacity="0.3"/>
<circle cx="529.32" cy="370.99" r="7.5" fill="#CC79A7" fill-opacity="0.3"/>
<circle cx="507" cy="383.93" r="7.5" fill="#CC79A7" fill-opacity="0.3"/>
<circle cx="604.46" cy="336.98" r="7.5" fill="#CC79A7" fill-opacity="0.3"/>
<circle cx="571.31" cy="350.25" r="7.5" fill="#CC79A7" fill-opacity="0.3"/>
<circle cx="517.76" cy="374.97" r="7.5" fill="#CC79A7" fill-opacity="0.3"/>
<circle cx="556.97" cy="355.85" r="7.5" fill="#CC79A7" fill-opacity="0.3"/>
<circle cx="525.14" cy="374.23" r="7.5" fill="#CC79A7" fill-opacity="0.3"/>
<circle cx="613.52" cy="335.11" r="7.5" fill="#CC79A7" fill-opacity="0.3"/>
<circle cx="528.75" cy="369.93" r="7.5" fill="#CC79A7" fill-opacity="0.3"/>
<circle cx="514.67" cy="377.84" r="7.5" fill="#CC79A7" fill-opacity="0.3"/>
<circle cx="504.97" cy="380.68" r="7.5" fill="#CC79A7" fill-opacity="0.3"/>
<circle cx="528.8" cy="371.93" r="7.5" fill="#CC79A7" fill-opacity="0.3"/>
<circle cx="626.34" cy="324.63" r="7.5" fill="#CC79A7" fill-opacity="0.3"/>
<circle cx="516.55" cy="375.9" r="7.5" fill="#CC79A7" fill-opacity="0.3"/>
<circle cx="542.43" cy="364.24" r="7.5" fill="#CC79A7" fill-opacity="0.3"/>
<circle cx="623.13" cy="327.5" r="7.5" fill="#CC79A7" fill-opacity="0.3"/>
<circle cx="503.92" cy="382.62" r="7.5" fill="#CC79A7" fill-opacity="0.3"/>
<circle cx="523.8" cy="373.79" r="7.5" fill="#CC79A7" fill-opacity="0.3"/>
<circle cx="596.46" cy="340.34" r="7.5" fill="#CC79A7" fill-opacity="0.3"/>
<circle cx="507.54" cy="379.76" r="7.5" fill="#CC79A7" fill-opacity="0.3"/>
<circle cx="615.16" cy="333.21" r="7.5" fill="#CC79A7" fill-opacity="0.3"/>
<circle cx="598.73" cy="336.27" r="7.5" fill="#CC79A7" fill-opacity="0.3"/>
<circle cx="510.58" cy="380.56" r="7.5" fill="#CC79A7" fill-opacity="0.3"/>
<circle cx="560.59" cy="355.34" r="7.5" fill="#CC79A7" fill-opacity="0.3"/>
<circle cx="555.38" cy="359.9" r="7.5" fill="#CC79A7" fill-opacity="0.3"/>
<circle cx="575.75" cy="350.82" r="7.5" fill="#CC79A7" fill-opacity="0.3"/>
<circle cx="525" cy="369.63" r="7.5" fill="#CC79A7" fill-opacity="0.3"/>
<circle cx="533.48" cy="370.42" r="7.5" fill="#CC79A7" fill-opacity="0.3"/>
<circle cx="518.56" cy="379.23" r="7.5" fill="#CC79A7" fill-opacity="0.3"/>
<circle cx="523.48" cy="375.84" r="7.5" fill="#CC79A7" fill-opacity="0.3"/>
<circle cx="513.02" cy="379.86" r="7.5" fill="#CC79A7" fill-opacity="0.3"/>
<circle cx="610.89" cy="329.83" r="7.5" fill="#CC79A7" fill-opacity="0.3"/>
<circle cx="607.89" cy="335.11" r="7.5" fill="#CC79A7" fill-opacity="0.3"/>
<circle cx="530.73" cy="369.19" r="7.5" fill="#CC79A7" fill-opacity="0.3"/>
<circle cx="575.68" cy="352.37" r="7.5" fill="#CC79A7" fill-opacity="0.3"/>
<circle cx="546.57" cy="363.06" r="7.5" fill="#CC79A7" fill-opacity="0.3"/>
<circle cx="522.37" cy="373.57" r="7.5" fill="#CC79A7" fill-opacity="0.3"/>
<circle cx="529.58" cy="367.99" r="7.5" fill="#CC79A7" fill-opacity="0.3"/>
<circle cx="621.85" cy="330.49" r="7.5" fill="#CC79A7" fill-opacity="0.3"/>
<circle cx="528.68" cy="370.8" r="7.5" fill="#CC79A7" fill-opacity="0.3"/>
<circle cx="558.63" cy="357.61" r="7.5" fill="#CC79A7" fill-opacity="0.3"/>
<circle cx="618.19" cy="332.83" r="7.5" fill="#CC79A7" fill-opacity="0.3"/>
<circle cx="524.05" cy="374.18" r="7.5" fill="#CC79A7" fill-opacity="0.3"/>
<circle cx="594.4" cy="342.27" r="7.5" fill="#CC79A7" fill-opacity="0.3"/>
<circle cx="508.65" cy="385.9" r="7.5" fill="#CC79A7" fill-opacity="0.3"/>
<circle cx="582" cy="346.25" r="7.5" fill="#CC79A7" fill-opacity="0.3"/>
<circle cx="594.02" cy="340.83" r="7.5" fill="#CC79A7" fill-opacity="0.3"/>
<circle cx="599.22" cy="340.4" r="7.5" fill="#CC79A7" fill-opacity="0.3"/>
<circle cx="623.67" cy="330.94" r="7.5" fill="#CC79A7" fill-opacity="0.3"/>
<circle cx="578.45" cy="346.12" r="7.5" fill="#CC79A7" fill-opacity="0.3"/>
<circle cx="624.07" cy="327.54" r="7.5" fill="#CC79A7" fill-opacity="0.3"/>
<circle cx="522.13" cy="372.99" r="7.5" fill="#CC79A7" fill-opacity="0.3"/>
<circle cx="550.73" cy="359.03" r="7.5" fill="#CC79A7" fill-opacity="0.3"/>
<circle cx="516.18" cy="378.81" r="7.5" fill="#CC79A7" fill-opacity="0.3"/>
<circle cx="506.85" cy="380.43" r="7.5" fill="#CC79A7" fill-opacity="0.3"/>
<circle cx="540.04" cy="367.26" r="7.5" fill="#CC79A7" fill-opacity="0.3"/>
<circle cx="579.83" cy="348.58" r="7.5" fill="#CC79A7" fill-opacity="0.3"/>
<circle cx="589.32" cy="344.25" r="7.5" fill="#CC79A7" fill-opacity="0.3"/>
<circle cx="504.13" cy="383.32" r="7.5" fill="#CC79A7" fill-opacity="0.3"/>
<circle cx="617.67" cy="328.79" r="7.5" fill="#CC79A7" fill-opacity="0.3"/>
<circle cx="519.15" cy="376.15" r="7.5" fill="#CC79A7" fill-opacity="0.3"/>
<circle cx="523.51" cy="374.7" r="7.5" fill="#CC79A7" fill-opacity="0.3"/>
<circle cx="598.37" cy="340.47" r="7.5" fill="#CC79A7" fill-opacity="0.3"/>
<circle cx="609.08" cy="334.29" r="7.5" fill="#CC79A7" fill-opacity="0.3"/>
<circle cx="582.5" cy="349.02" r="7.5" fill="#CC79A7" fill-opacity="0.3"/>
<circle cx="527.74" cy="373.45" r="7.5" fill="#CC79A7" fill-opacity="0.3"/>
<circle cx="543.04" cy="365.5" r="7.5" fill="#CC79A7" fill-opacity="0.3"/>
<circle cx="598.74" cy="340.88" r="7.5" fill="#CC79A7" fill-opacity="0.3"/>
<circle cx="530.43" cy="371.44" r="7.5" fill="#CC79A7" fill-opacity="0.3"/>
<circle cx="593.79" cy="343.25" r="7.5" fill="#CC79A7" fill-opacity="0.3"/>
<circle cx="589.91" cy="339.79" r="7.5" fill="#CC79A7" fill-opacity="0.3"/>
<circle cx="543.78" cy="362.39" r="7.5" fill="#CC79A7" fill-opacity="0.3"/>
<circle cx="609.5" cy="333.88" r="7.5" fill="#CC79A7" fill-opacity="0.3"/>
<circle cx="533.52" cy="369.89" r="7.5" fill="#CC79A7" fill-opacity="0.3"/>
<circle cx="584.67" cy="341.83" r="7.5" fill="#CC79A7" fill-opacity="0.3"/>
<circle cx="567.53" cy="353.47" r="7.5" fill="#CC79A7" fill-opacity="0.3"/>
<circle cx="527.58" cy="372.69" r="7.5" fill="#CC79A7" fill-opacity="0.3"/>
<circle cx="552.11" cy="360.61" r="7.5" fill="#CC79A7" fill-opacity="0.3"/>
<circle cx="562.56" cy="355.79" r="7.5" fill="#CC79A7" fill-opacity="0.3"/>
<circle cx="552.8" cy="358.07" r="7.5" fill="#CC79A7" fill-opacity="0.3"/>
<circle cx="508.43" cy="381.37" r="7.5" fill="#CC79A7" fill-opacity="0.3"/>
<circle cx="626.71" cy="322.65" r="7.5" fill="#CC79A7" fill-opacity="0.3"/>
<circle cx="622.12" cy="330.74" r="7.5" fill="#CC79A7" fill-opacity="0.3"/>
<circle cx="504.75" cy="381.64" r="7.5" fill="#CC79A7" fill-opacity="0.3"/>
<circle cx="618.04" cy="332.86" r="7.5" fill="#CC79A7" fill-opacity="0.3"/>
<circle cx="552.07" cy="357.59" r="7.5" fill="#CC79A7" fill-opacity="0.3"/>
<circle cx="547.73" cy="359.22" r="7.5" fill="#56B4E9" fill-opacity="0.3"/>
<circle cx="506.46" cy="377.61" r="7.5" fill="#56B4E9" fill-opacity="0.3"/>
<circle cx="610.1" cy="327.67" r="7.5" fill="#56B4E9" fill-opacity="0.3"/>
<circle cx="574.81" cy="343.17" r="7.5" fill="#56B4E9" fill-opacity="0.3"/>
<circle cx="531.86" cy="368.29" r="7.5" fill="#56B4E9" fill-opacity="0.3"/>
<circle cx="599.93" cy="335.21" r="7.5" fill="#56B4E9" fill-opacity="0.3"/>
<circle cx="592.38" cy="341.06" r="7.5" fill="#56B4E9" fill-opacity="0.3"/>
<circle cx="527.06" cy="367.68" r="7.5" fill="#56B4E9" fill-opacity="0.3"/>
<circle cx="600.9" cy="334.21" r="7.5" fill="#56B4E9" fill-opacity="0.3"/>
<circle cx="615.36" cy="328.11" r="7.5" fill="#56B4E9" fill-opacity="0.3"/>
<circle cx="564.59" cy="352.25" r="7.5" fill="#56B4E9" fill-opacity="0.3"/>
<circle cx="529.82" cy="367.6" r="7.5" fill="#56B4E9" fill-opacity="0.3"/>
<circle cx="610.21" cy="331.38" r="7.5" fill="#56B4E9" fill-opacity="0.3"/>
<circle cx="617.79" cy="325.01" r="7.5" fill="#56B4E9" fill-opacity="0.3"/>
<circle cx="529.32" cy="363.53" r="7.5" fill="#56B4E9" fill-opacity="0.3"/>
<circle cx="507" cy="381.59" r="7.5" fill="#56B4E9" fill-opacity="0.3"/>
<circle cx="604.46" cy="332.61" r="7.5" fill="#56B4E9" fill-opacity="0.3"/>
<circle cx="571.31" cy="348.56" r="7.5" fill="#56B4E9" fill-opacity="0.3"/>
<circle cx="517.76" cy="371.17" r="7.5" fill="#56B4E9" fill-opacity="0.3"/>
<circle cx="556.97" cy="356.36" r="7.5" fill="#56B4E9" fill-opacity="0.3"/>
<circle cx="525.14" cy="369.21" r="7.5" fill="#56B4E9" fill-opacity="0.3"/>
<circle cx="613.52" cy="330.52" r="7.5" fill="#56B4E9" fill-opacity="0.3"/>
<circle cx="528.75" cy="365.64" r="7.5" fill="#56B4E9" fill-opacity="0.3"/>
<circle cx="514.67" cy="373.48" r="7.5" fill="#56B4E9" fill-opacity="0.3"/>
<circle cx="504.97" cy="378.53" r="7.5" fill="#56B4E9" fill-opacity="0.3"/>
<circle cx="528.8" cy="366.36" r="7.5" fill="#56B4E9" fill-opacity="0.3"/>
<circle cx="626.34" cy="322.83" r="7.5" fill="#56B4E9" fill-opacity="0.3"/>
<circle cx="516.55" cy="376.34" r="7.5" fill="#56B4E9" fill-opacity="0.3"/>
<circle cx="542.43" cy="359.57" r="7.5" fill="#56B4E9" fill-opacity="0.3"/>
<circle cx="623.13" cy="323.1" r="7.5" fill="#56B4E9" fill-opacity="0.3"/>
<circle cx="503.92" cy="379" r="7.5" fill="#56B4E9" fill-opacity="0.3"/>
<circle cx="523.8" cy="367.28" r="7.5" fill="#56B4E9" fill-opacity="0.3"/>
<circle cx="596.46" cy="333.28" r="7.5" fill="#56B4E9" fill-opacity="0.3"/>
<circle cx="507.54" cy="379.45" r="7.5" fill="#56B4E9" fill-opacity="0.3"/>
<circle cx="615.16" cy="329.18" r="7.5" fill="#56B4E9" fill-opacity="0.3"/>
<circle cx="598.73" cy="331.49" r="7.5" fill="#56B4E9" fill-opacity="0.3"/>
<circle cx="510.58" cy="372.38" r="7.5" fill="#56B4E9" fill-opacity="0.3"/>
<circle cx="560.59" cy="354.22" r="7.5" fill="#56B4E9" fill-opacity="0.3"/>
<circle cx="555.38" cy="357.62" r="7.5" fill="#56B4E9" fill-opacity="0.3"/>
<circle cx="575.75" cy="347.01" r="7.5" fill="#56B4E9" fill-opacity="0.3"/>
<circle cx="525" cy="370.07" r="7.5" fill="#56B4E9" fill-opacity="0.3"/>
<circle cx="533.48" cy="368.61" r="7.5" fill="#56B4E9" fill-opacity="0.3"/>
<circle cx="518.56" cy="371.84" r="7.5" fill="#56B4E9" fill-opacity="0.3"/>
<circle cx="523.48" cy="372.53" r="7.5" fill="#56B4E9" fill-opacity="0.3"/>
<circle cx="513.02" cy="377.19" r="7.5" fill="#56B4E9" fill-opacity="0.3"/>
<circle cx="610.89" cy="327.32" r="7.5" fill="#56B4E9" fill-opacity="0.3"/>
<circle cx="607.89" cy="332.31" r="7.5" fill="#56B4E9" fill-opacity="0.3"/>
<circle cx="530.73" cy="366.46" r="7.5" fill="#56B4E9" fill-opacity="0.3"/>
<circle cx="575.68" cy="344.18" r="7.5" fill="#56B4E9" fill-opacity="0.3"/>
<circle cx="546.57" cy="357.17" r="7.5" fill="#56B4E9" fill-opacity="0.3"/>
<circle cx="522.37" cy="370.92" r="7.5" fill="#56B4E9" fill-opacity="0.3"/>
<circle cx="529.58" cy="366.74" r="7.5" fill="#56B4E9" fill-opacity="0.3"/>
<circle cx="621.85" cy="326.2" r="7.5" fill="#56B4E9" fill-opacity="0.3"/>
<circle cx="528.68" cy="363.31" r="7.5" fill="#56B4E9" fill-opacity="0.3"/>
<circle cx="558.63" cy="351.99" r="7.5" fill="#56B4E9" fill-opacity="0.3"/>
<circle cx="618.19" cy="328.51" r="7.5" fill="#56B4E9" fill-opacity="0.3"/>
<circle cx="524.05" cy="369.37" r="7.5" fill="#56B4E9" fill-opacity="0.3"/>
<circle cx="594.4" cy="335.37" r="7.5" fill="#56B4E9" fill-opacity="0.3"/>
<circle cx="508.65" cy="375.39" r="7.5" fill="#56B4E9" fill-opacity="0.3"/>
<circle cx="582" cy="338.56" r="7.5" fill="#56B4E9" fill-opacity="0.3"/>
<circle cx="594.02" cy="334.06" r="7.5" fill="#56B4E9" fill-opacity="0.3"/>
<circle cx="599.22" cy="335.97" r="7.5" fill="#56B4E9" fill-opacity="0.3"/>
<circle cx="623.67" cy="323.7" r="7.5" fill="#56B4E9" fill-opacity="0.3"/>
<circle cx="578.45" cy="347.22" r="7.5" fill="#56B4E9" fill-opacity="0.3"/>
<circle cx="624.07" cy="322.75" r="7.5" fill="#56B4E9" fill-opacity="0.3"/>
<circle cx="522.13" cy="369.93" r="7.5" fill="#56B4E9" fill-opacity="0.3"/>
<circle cx="550.73" cy="351" r="7.5" fill="#56B4E9" fill-opacity="0.3"/>
<circle cx="516.18" cy="372.79" r="7.5" fill="#56B4E9" fill-opacity="0.3"/>
<circle cx="506.85" cy="382.02" r="7.5" fill="#56B4E9" fill-opacity="0.3"/>
<circle cx="540.04" cy="363.53" r="7.5" fill="#56B4E9" fill-opacity="0.3"/>
<circle cx="579.83" cy="343.44" r="7.5" fill="#56B4E9" fill-opacity="0.3"/>
<circle cx="589.32" cy="342.15" r="7.5" fill="#56B4E9" fill-opacity="0.3"/>
<circle cx="504.13" cy="380.51" r="7.5" fill="#56B4E9" fill-opacity="0.3"/>
<circle cx="617.67" cy="327.09" r="7.5" fill="#56B4E9" fill-opacity="0.3"/>
<circle cx="519.15" cy="370.87" r="7.5" fill="#56B4E9" fill-opacity="0.3"/>
<circle cx="523.51" cy="370" r="7.5" fill="#56B4E9" fill-opacity="0.3"/>
<circle cx="598.37" cy="337.16" r="7.5" fill="#56B4E9" fill-opacity="0.3"/>
<circle cx="609.08" cy="328.44" r="7.5" fill="#56B4E9" fill-opacity="0.3"/>
<circle cx="582.5" cy="343.68" r="7.5" fill="#56B4E9" fill-opacity="0.3"/>
<circle cx="527.74" cy="368.81" r="7.5" fill="#56B4E9" fill-opacity="0.3"/>
<circle cx="543.04" cy="363.75" r="7.5" fill="#56B4E9" fill-opacity="0.3"/>
<circle cx="598.74" cy="336.75" r="7.5" fill="#56B4E9" fill-opacity="0.3"/>
<circle cx="530.43" cy="364.97" r="7.5" fill="#56B4E9" fill-opacity="0.3"/>
<circle cx="593.79" cy="340.91" r="7.5" fill="#56B4E9" fill-opacity="0.3"/>
<circle cx="589.91" cy="339.21" r="7.5" fill="#56B4E9" fill-opacity="0.3"/>
<circle cx="543.78" cy="358.67" r="7.5" fill="#56B4E9" fill-opacity="0.3"/>
<circle cx="609.5" cy="330.88" r="7.5" fill="#56B4E9" fill-opacity="0.3"/>
<circle cx="533.52" cy="364.48" r="7.5" fill="#56B4E9" fill-opacity="0.3"/>
<circle cx="584.67" cy="343.98" r="7.5" fill="#56B4E9" fill-opacity="0.3"/>
<circle cx="567.53" cy="346.4" r="7.5" fill="#56B4E9" fill-opacity="0.3"/>
<circle cx="527.58" cy="365.27" r="7.5" fill="#56B4E9" fill-opacity="0.3"/>
<circle cx="552.11" cy="355.93" r="7.5" fill="#56B4E9" fill-opacity="0.3"/>
<circle cx="562.56" cy="355.6" r="7.5" fill="#56B4E9" fill-opacity="0.3"/>
<circle cx="552.8" cy="358.5" r="7.5" fill="#56B4E9" fill-opacity="0.3"/>
<circle cx="508.43" cy="374.37" r="7.5" fill="#56B4E9" fill-opacity="0.3"/>
<circle cx="626.71" cy="318.24" r="7.5" fill="#56B4E9" fill-opacity="0.3"/>
<circle cx="622.12" cy="323.54" r="7.5" fill="#56B4E9" fill-opacity="0.3"/>
<circle cx="504.75" cy="375.46" r="7.5" fill="#56B4E9" fill-opacity="0.3"/>
<circle cx="618.04" cy="327.46" r="7.5" fill="#56B4E9" fill-opacity="0.3"/>
<circle cx="552.07" cy="356.9" r="7.5" fill="#56B4E9" fill-opacity="0.3"/>
<circle cx="503.85" cy="462.04" r="7.5" fill="#56B4E9" fill-opacity="0.3"/>
<line x1="444" y1="412.67" x2="740.4" y2="256.3" stroke="#000" stroke-width="4.05" stroke-dasharray="13.9 12.9"/>
</g>
<rect x="445.4" y="282.38" width="238.9" height="188.55" fill="none" stroke="#333333" stroke-width="2.5"/>
<rect x="445.4" y="248.58" width="238.9" height="33.8" fill="#fff" stroke="#333333" stroke-width="2.5"/>
<line x1="444.4" x2="685.3" y1="282.78" y2="282.78" stroke="#333333" stroke-width="3.5"/>
<text transform="translate(565.45 274.38) scale(1 0.945)" font-size="25.3" text-anchor="middle" fill="#1a1a1a" stroke="#1a1a1a" stroke-width="0.6">intermediate</text>
<line x1="435.9" x2="445.4" y1="431.72" y2="431.72" stroke="#333333" stroke-width="3.8"/>
<text transform="translate(428.8 440.92) scale(1 1.02)" font-size="25.1" text-anchor="end" fill="#4d4d4d" stroke="#4d4d4d" stroke-width="0.7">10</text>
<line x1="435.9" x2="445.4" y1="381.6" y2="381.6" stroke="#333333" stroke-width="3.8"/>
<text transform="translate(428.8 390.8) scale(1 1.02)" font-size="25.1" text-anchor="end" fill="#4d4d4d" stroke="#4d4d4d" stroke-width="0.7">20</text>
<line x1="435.9" x2="445.4" y1="331.48" y2="331.48" stroke="#333333" stroke-width="3.8"/>
<text transform="translate(428.8 340.68) scale(1 1.02)" font-size="25.1" text-anchor="end" fill="#4d4d4d" stroke="#4d4d4d" stroke-width="0.7">30</text>
<clipPath id="c6"><rect x="445.4" y="523.96" width="238.9" height="188.45"/></clipPath>
<g clip-path="url(#c6)">
<line x1="445.4" x2="684.3" y1="698.26" y2="698.26" stroke="#efeff2" stroke-width="1.9"/>
<line x1="445.4" x2="684.3" y1="648.14" y2="648.14" stroke="#efeff2" stroke-width="1.9"/>
<line x1="445.4" x2="684.3" y1="598.02" y2="598.02" stroke="#efeff2" stroke-width="1.9"/>
<line x1="445.4" x2="684.3" y1="547.9" y2="547.9" stroke="#efeff2" stroke-width="1.9"/>
<line y1="523.96" y2="710.61" x1="479.15" x2="479.15" stroke="#efeff2" stroke-width="1.9"/>
<line y1="523.96" y2="710.61" x1="526.65" x2="526.65" stroke="#efeff2" stroke-width="1.9"/>
<line y1="523.96" y2="710.61" x1="574.15" x2="574.15" stroke="#efeff2" stroke-width="1.9"/>
<line y1="523.96" y2="710.61" x1="621.65" x2="621.65" stroke="#efeff2" stroke-width="1.9"/>
<line y1="523.96" y2="710.61" x1="669.15" x2="669.15" stroke="#efeff2" stroke-width="1.9"/>
<line x1="445.4" x2="684.3" y1="673.2" y2="673.2" stroke="#ebebee" stroke-width="3.7"/>
<line x1="445.4" x2="684.3" y1="623.08" y2="623.08" stroke="#ebebee" stroke-width="3.7"/>
<line x1="445.4" x2="684.3" y1="572.96" y2="572.96" stroke="#ebebee" stroke-width="3.7"/>
<line y1="523.96" y2="710.61" x1="455.4" x2="455.4" stroke="#ebebee" stroke-width="3.7"/>
<line y1="523.96" y2="710.61" x1="502.9" x2="502.9" stroke="#ebebee" stroke-width="3.7"/>
<line y1="523.96" y2="710.61" x1="550.4" x2="550.4" stroke="#ebebee" stroke-width="3.7"/>
<line y1="523.96" y2="710.61" x1="597.9" x2="597.9" stroke="#ebebee" stroke-width="3.7"/>
<line y1="523.96" y2="710.61" x1="645.4" x2="645.4" stroke="#ebebee" stroke-width="3.7"/>
<circle cx="511.54" cy="617.55" r="7.5" fill="#CC79A7" fill-opacity="0.3"/>
<circle cx="570.01" cy="590.21" r="7.5" fill="#CC79A7" fill-opacity="0.3"/>
<circle cx="536.07" cy="604.63" r="7.5" fill="#CC79A7" fill-opacity="0.3"/>
<circle cx="611.22" cy="573.47" r="7.5" fill="#CC79A7" fill-opacity="0.3"/>
<circle cx="507.42" cy="616.65" r="7.5" fill="#CC79A7" fill-opacity="0.3"/>
<circle cx="560.79" cy="595.2" r="7.5" fill="#CC79A7" fill-opacity="0.3"/>
<circle cx="528.93" cy="606.93" r="7.5" fill="#CC79A7" fill-opacity="0.3"/>
<circle cx="600.3" cy="576.03" r="7.5" fill="#CC79A7" fill-opacity="0.3"/>
<circle cx="516.58" cy="614.37" r="7.5" fill="#CC79A7" fill-opacity="0.3"/>
<circle cx="579.68" cy="586.71" r="7.5" fill="#CC79A7" fill-opacity="0.3"/>
<circle cx="543.79" cy="603.73" r="7.5" fill="#CC79A7" fill-opacity="0.3"/>
<circle cx="622.51" cy="568.66" r="7.5" fill="#CC79A7" fill-opacity="0.3"/>
<circle cx="504.09" cy="619.39" r="7.5" fill="#CC79A7" fill-opacity="0.3"/>
<circle cx="549.93" cy="598.41" r="7.5" fill="#CC79A7" fill-opacity="0.3"/>
<circle cx="520.89" cy="610.85" r="7.5" fill="#CC79A7" fill-opacity="0.3"/>
<circle cx="587.22" cy="583.34" r="7.5" fill="#CC79A7" fill-opacity="0.3"/>
<circle cx="510.41" cy="615.4" r="7.5" fill="#CC79A7" fill-opacity="0.3"/>
<circle cx="567.66" cy="592.32" r="7.5" fill="#CC79A7" fill-opacity="0.3"/>
<circle cx="534.23" cy="604.77" r="7.5" fill="#CC79A7" fill-opacity="0.3"/>
<circle cx="608.45" cy="571.77" r="7.5" fill="#CC79A7" fill-opacity="0.3"/>
<circle cx="506.57" cy="620.1" r="7.5" fill="#CC79A7" fill-opacity="0.3"/>
<circle cx="558.56" cy="594.23" r="7.5" fill="#CC79A7" fill-opacity="0.3"/>
<circle cx="527.24" cy="608.79" r="7.5" fill="#CC79A7" fill-opacity="0.3"/>
<circle cx="597.64" cy="577.41" r="7.5" fill="#CC79A7" fill-opacity="0.3"/>
<circle cx="515.24" cy="613.62" r="7.5" fill="#CC79A7" fill-opacity="0.3"/>
<circle cx="577.22" cy="587.14" r="7.5" fill="#CC79A7" fill-opacity="0.3"/>
<circle cx="541.81" cy="603.05" r="7.5" fill="#CC79A7" fill-opacity="0.3"/>
<circle cx="619.65" cy="568.88" r="7.5" fill="#CC79A7" fill-opacity="0.3"/>
<circle cx="505.11" cy="618.04" r="7.5" fill="#CC79A7" fill-opacity="0.3"/>
<circle cx="554.18" cy="596.03" r="7.5" fill="#CC79A7" fill-opacity="0.3"/>
<circle cx="523.98" cy="612.31" r="7.5" fill="#CC79A7" fill-opacity="0.3"/>
<circle cx="592.38" cy="579.49" r="7.5" fill="#CC79A7" fill-opacity="0.3"/>
<circle cx="512.72" cy="616.9" r="7.5" fill="#CC79A7" fill-opacity="0.3"/>
<circle cx="572.39" cy="590.65" r="7.5" fill="#CC79A7" fill-opacity="0.3"/>
<circle cx="537.95" cy="605.95" r="7.5" fill="#CC79A7" fill-opacity="0.3"/>
<circle cx="614" cy="570.61" r="7.5" fill="#CC79A7" fill-opacity="0.3"/>
<circle cx="508.35" cy="618.83" r="7.5" fill="#CC79A7" fill-opacity="0.3"/>
<circle cx="563.05" cy="594.59" r="7.5" fill="#CC79A7" fill-opacity="0.3"/>
<circle cx="530.66" cy="609.57" r="7.5" fill="#CC79A7" fill-opacity="0.3"/>
<circle cx="602.99" cy="576.46" r="7.5" fill="#CC79A7" fill-opacity="0.3"/>
<circle cx="517.97" cy="612.66" r="7.5" fill="#CC79A7" fill-opacity="0.3"/>
<circle cx="582.17" cy="586.9" r="7.5" fill="#CC79A7" fill-opacity="0.3"/>
<circle cx="545.8" cy="601.36" r="7.5" fill="#CC79A7" fill-opacity="0.3"/>
<circle cx="625.39" cy="565.42" r="7.5" fill="#CC79A7" fill-opacity="0.3"/>
<circle cx="503.94" cy="621.67" r="7.5" fill="#CC79A7" fill-opacity="0.3"/>
<circle cx="548.88" cy="600.7" r="7.5" fill="#CC79A7" fill-opacity="0.3"/>
<circle cx="520.14" cy="611.18" r="7.5" fill="#CC79A7" fill-opacity="0.3"/>
<circle cx="585.95" cy="581.51" r="7.5" fill="#CC79A7" fill-opacity="0.3"/>
<circle cx="509.87" cy="615.98" r="7.5" fill="#CC79A7" fill-opacity="0.3"/>
<circle cx="566.5" cy="593.32" r="7.5" fill="#CC79A7" fill-opacity="0.3"/>
<circle cx="533.33" cy="605.85" r="7.5" fill="#CC79A7" fill-opacity="0.3"/>
<circle cx="607.08" cy="574.16" r="7.5" fill="#CC79A7" fill-opacity="0.3"/>
<circle cx="506.17" cy="620.22" r="7.5" fill="#CC79A7" fill-opacity="0.3"/>
<circle cx="557.45" cy="596.17" r="7.5" fill="#CC79A7" fill-opacity="0.3"/>
<circle cx="526.41" cy="608.33" r="7.5" fill="#CC79A7" fill-opacity="0.3"/>
<circle cx="596.31" cy="577.34" r="7.5" fill="#CC79A7" fill-opacity="0.3"/>
<circle cx="514.59" cy="615.62" r="7.5" fill="#CC79A7" fill-opacity="0.3"/>
<circle cx="576" cy="589.49" r="7.5" fill="#CC79A7" fill-opacity="0.3"/>
<circle cx="540.83" cy="601.98" r="7.5" fill="#CC79A7" fill-opacity="0.3"/>
<circle cx="618.23" cy="567.15" r="7.5" fill="#CC79A7" fill-opacity="0.3"/>
<circle cx="504.81" cy="619.52" r="7.5" fill="#CC79A7" fill-opacity="0.3"/>
<circle cx="553.11" cy="599.08" r="7.5" fill="#CC79A7" fill-opacity="0.3"/>
<circle cx="523.19" cy="611.21" r="7.5" fill="#CC79A7" fill-opacity="0.3"/>
<circle cx="591.08" cy="580.36" r="7.5" fill="#CC79A7" fill-opacity="0.3"/>
<circle cx="512.12" cy="616.38" r="7.5" fill="#CC79A7" fill-opacity="0.3"/>
<circle cx="571.2" cy="590.53" r="7.5" fill="#CC79A7" fill-opacity="0.3"/>
<circle cx="537.01" cy="606.17" r="7.5" fill="#CC79A7" fill-opacity="0.3"/>
<circle cx="612.61" cy="572.28" r="7.5" fill="#CC79A7" fill-opacity="0.3"/>
<circle cx="507.88" cy="619.91" r="7.5" fill="#CC79A7" fill-opacity="0.3"/>
<circle cx="561.92" cy="595.04" r="7.5" fill="#CC79A7" fill-opacity="0.3"/>
<circle cx="529.79" cy="606.7" r="7.5" fill="#CC79A7" fill-opacity="0.3"/>
<circle cx="601.65" cy="578.27" r="7.5" fill="#CC79A7" fill-opacity="0.3"/>
<circle cx="517.27" cy="613.15" r="7.5" fill="#CC79A7" fill-opacity="0.3"/>
<circle cx="580.92" cy="584.53" r="7.5" fill="#CC79A7" fill-opacity="0.3"/>
<circle cx="544.79" cy="602.11" r="7.5" fill="#CC79A7" fill-opacity="0.3"/>
<circle cx="623.95" cy="566.09" r="7.5" fill="#CC79A7" fill-opacity="0.3"/>
<circle cx="504.3" cy="620.86" r="7.5" fill="#CC79A7" fill-opacity="0.3"/>
<circle cx="550.98" cy="598.34" r="7.5" fill="#CC79A7" fill-opacity="0.3"/>
<circle cx="521.64" cy="611.27" r="7.5" fill="#CC79A7" fill-opacity="0.3"/>
<circle cx="588.5" cy="581.36" r="7.5" fill="#CC79A7" fill-opacity="0.3"/>
<circle cx="510.97" cy="616.85" r="7.5" fill="#CC79A7" fill-opacity="0.3"/>
<circle cx="568.83" cy="589.23" r="7.5" fill="#CC79A7" fill-opacity="0.3"/>
<circle cx="535.15" cy="604.65" r="7.5" fill="#CC79A7" fill-opacity="0.3"/>
<circle cx="609.83" cy="572.47" r="7.5" fill="#CC79A7" fill-opacity="0.3"/>
<circle cx="506.99" cy="617.9" r="7.5" fill="#CC79A7" fill-opacity="0.3"/>
<circle cx="559.67" cy="595.97" r="7.5" fill="#CC79A7" fill-opacity="0.3"/>
<circle cx="528.08" cy="607.5" r="7.5" fill="#CC79A7" fill-opacity="0.3"/>
<circle cx="598.97" cy="577.04" r="7.5" fill="#CC79A7" fill-opacity="0.3"/>
<circle cx="515.91" cy="613.12" r="7.5" fill="#CC79A7" fill-opacity="0.3"/>
<circle cx="578.45" cy="587.54" r="7.5" fill="#CC79A7" fill-opacity="0.3"/>
<circle cx="542.8" cy="600.8" r="7.5" fill="#CC79A7" fill-opacity="0.3"/>
<circle cx="621.08" cy="569.24" r="7.5" fill="#CC79A7" fill-opacity="0.3"/>
<circle cx="505.44" cy="619.17" r="7.5" fill="#CC79A7" fill-opacity="0.3"/>
<circle cx="555.26" cy="598.56" r="7.5" fill="#CC79A7" fill-opacity="0.3"/>
<circle cx="524.78" cy="611.85" r="7.5" fill="#CC79A7" fill-opacity="0.3"/>
<circle cx="593.68" cy="578.94" r="7.5" fill="#CC79A7" fill-opacity="0.3"/>
<circle cx="513.33" cy="617.42" r="7.5" fill="#CC79A7" fill-opacity="0.3"/>
<circle cx="573.59" cy="589.35" r="7.5" fill="#CC79A7" fill-opacity="0.3"/>
<circle cx="538.9" cy="605.54" r="7.5" fill="#CC79A7" fill-opacity="0.3"/>
<circle cx="615.41" cy="568.93" r="7.5" fill="#CC79A7" fill-opacity="0.3"/>
<circle cx="508.84" cy="619.36" r="7.5" fill="#CC79A7" fill-opacity="0.3"/>
<circle cx="564.19" cy="593.72" r="7.5" fill="#CC79A7" fill-opacity="0.3"/>
<circle cx="531.54" cy="606.29" r="7.5" fill="#CC79A7" fill-opacity="0.3"/>
<circle cx="604.35" cy="574.48" r="7.5" fill="#CC79A7" fill-opacity="0.3"/>
<circle cx="518.68" cy="612.61" r="7.5" fill="#CC79A7" fill-opacity="0.3"/>
<circle cx="583.42" cy="582.65" r="7.5" fill="#CC79A7" fill-opacity="0.3"/>
<circle cx="546.82" cy="602.65" r="7.5" fill="#CC79A7" fill-opacity="0.3"/>
<circle cx="626.84" cy="564.54" r="7.5" fill="#CC79A7" fill-opacity="0.3"/>
<circle cx="503.88" cy="619.05" r="7.5" fill="#CC79A7" fill-opacity="0.3"/>
<circle cx="548.37" cy="599.2" r="7.5" fill="#CC79A7" fill-opacity="0.3"/>
<circle cx="519.77" cy="612.08" r="7.5" fill="#CC79A7" fill-opacity="0.3"/>
<circle cx="585.31" cy="585.31" r="7.5" fill="#CC79A7" fill-opacity="0.3"/>
<circle cx="509.61" cy="619.01" r="7.5" fill="#CC79A7" fill-opacity="0.3"/>
<circle cx="565.92" cy="591.29" r="7.5" fill="#CC79A7" fill-opacity="0.3"/>
<circle cx="532.88" cy="606.63" r="7.5" fill="#CC79A7" fill-opacity="0.3"/>
<circle cx="606.39" cy="575.18" r="7.5" fill="#CC79A7" fill-opacity="0.3"/>
<circle cx="505.98" cy="620.91" r="7.5" fill="#CC79A7" fill-opacity="0.3"/>
<circle cx="556.9" cy="596.22" r="7.5" fill="#CC79A7" fill-opacity="0.3"/>
<circle cx="526" cy="611.68" r="7.5" fill="#CC79A7" fill-opacity="0.3"/>
<circle cx="595.65" cy="578.12" r="7.5" fill="#CC79A7" fill-opacity="0.3"/>
<circle cx="514.27" cy="615.96" r="7.5" fill="#CC79A7" fill-opacity="0.3"/>
<circle cx="575.4" cy="586.93" r="7.5" fill="#CC79A7" fill-opacity="0.3"/>
<circle cx="540.35" cy="605.27" r="7.5" fill="#CC79A7" fill-opacity="0.3"/>
<circle cx="617.52" cy="569.34" r="7.5" fill="#CC79A7" fill-opacity="0.3"/>
<circle cx="504.67" cy="621.15" r="7.5" fill="#CC79A7" fill-opacity="0.3"/>
<circle cx="552.57" cy="597.21" r="7.5" fill="#CC79A7" fill-opacity="0.3"/>
<circle cx="522.8" cy="611.32" r="7.5" fill="#CC79A7" fill-opacity="0.3"/>
<circle cx="590.43" cy="582.41" r="7.5" fill="#CC79A7" fill-opacity="0.3"/>
<circle cx="511.83" cy="614.68" r="7.5" fill="#CC79A7" fill-opacity="0.3"/>
<circle cx="570.6" cy="589.54" r="7.5" fill="#CC79A7" fill-opacity="0.3"/>
<circle cx="511.54" cy="580.61" r="7.5" fill="#56B4E9" fill-opacity="0.3"/>
<circle cx="570.01" cy="574.04" r="7.5" fill="#56B4E9" fill-opacity="0.3"/>
<circle cx="536.07" cy="580.74" r="7.5" fill="#56B4E9" fill-opacity="0.3"/>
<circle cx="611.22" cy="550.48" r="7.5" fill="#56B4E9" fill-opacity="0.3"/>
<circle cx="507.42" cy="594.21" r="7.5" fill="#56B4E9" fill-opacity="0.3"/>
<circle cx="560.79" cy="570.42" r="7.5" fill="#56B4E9" fill-opacity="0.3"/>
<circle cx="528.93" cy="572.36" r="7.5" fill="#56B4E9" fill-opacity="0.3"/>
<circle cx="600.3" cy="561.86" r="7.5" fill="#56B4E9" fill-opacity="0.3"/>
<circle cx="516.58" cy="590.95" r="7.5" fill="#56B4E9" fill-opacity="0.3"/>
<circle cx="579.68" cy="564.44" r="7.5" fill="#56B4E9" fill-opacity="0.3"/>
<circle cx="543.79" cy="586.03" r="7.5" fill="#56B4E9" fill-opacity="0.3"/>
<circle cx="622.51" cy="550.08" r="7.5" fill="#56B4E9" fill-opacity="0.3"/>
<circle cx="504.09" cy="582.81" r="7.5" fill="#56B4E9" fill-opacity="0.3"/>
<circle cx="549.93" cy="583.38" r="7.5" fill="#56B4E9" fill-opacity="0.3"/>
<circle cx="520.89" cy="584.61" r="7.5" fill="#56B4E9" fill-opacity="0.3"/>
<circle cx="587.22" cy="556.89" r="7.5" fill="#56B4E9" fill-opacity="0.3"/>
<circle cx="510.41" cy="597.55" r="7.5" fill="#56B4E9" fill-opacity="0.3"/>
<circle cx="567.66" cy="572.72" r="7.5" fill="#56B4E9" fill-opacity="0.3"/>
<circle cx="534.23" cy="575.77" r="7.5" fill="#56B4E9" fill-opacity="0.3"/>
<circle cx="608.45" cy="558.36" r="7.5" fill="#56B4E9" fill-opacity="0.3"/>
<circle cx="506.57" cy="589.99" r="7.5" fill="#56B4E9" fill-opacity="0.3"/>
<circle cx="558.56" cy="568.05" r="7.5" fill="#56B4E9" fill-opacity="0.3"/>
<circle cx="527.24" cy="589.73" r="7.5" fill="#56B4E9" fill-opacity="0.3"/>
<circle cx="597.64" cy="559.02" r="7.5" fill="#56B4E9" fill-opacity="0.3"/>
<circle cx="515.24" cy="575.06" r="7.5" fill="#56B4E9" fill-opacity="0.3"/>
<circle cx="577.22" cy="573.24" r="7.5" fill="#56B4E9" fill-opacity="0.3"/>
<circle cx="541.81" cy="582.03" r="7.5" fill="#56B4E9" fill-opacity="0.3"/>
<circle cx="619.65" cy="548.69" r="7.5" fill="#56B4E9" fill-opacity="0.3"/>
<circle cx="505.11" cy="598.06" r="7.5" fill="#56B4E9" fill-opacity="0.3"/>
<circle cx="554.18" cy="574.59" r="7.5" fill="#56B4E9" fill-opacity="0.3"/>
<circle cx="523.98" cy="575.31" r="7.5" fill="#56B4E9" fill-opacity="0.3"/>
<circle cx="592.38" cy="563.97" r="7.5" fill="#56B4E9" fill-opacity="0.3"/>
<circle cx="512.72" cy="584.07" r="7.5" fill="#56B4E9" fill-opacity="0.3"/>
<circle cx="572.39" cy="561.4" r="7.5" fill="#56B4E9" fill-opacity="0.3"/>
<circle cx="537.95" cy="590.09" r="7.5" fill="#56B4E9" fill-opacity="0.3"/>
<circle cx="614" cy="554.39" r="7.5" fill="#56B4E9" fill-opacity="0.3"/>
<circle cx="508.35" cy="583.36" r="7.5" fill="#56B4E9" fill-opacity="0.3"/>
<circle cx="563.05" cy="578.45" r="7.5" fill="#56B4E9" fill-opacity="0.3"/>
<circle cx="530.66" cy="582.52" r="7.5" fill="#56B4E9" fill-opacity="0.3"/>
<circle cx="602.99" cy="555.43" r="7.5" fill="#56B4E9" fill-opacity="0.3"/>
<circle cx="517.97" cy="592.78" r="7.5" fill="#56B4E9" fill-opacity="0.3"/>
<circle cx="582.17" cy="564.73" r="7.5" fill="#56B4E9" fill-opacity="0.3"/>
<circle cx="545.8" cy="569.1" r="7.5" fill="#56B4E9" fill-opacity="0.3"/>
<circle cx="625.39" cy="551.03" r="7.5" fill="#56B4E9" fill-opacity="0.3"/>
<circle cx="503.94" cy="593.75" r="7.5" fill="#56B4E9" fill-opacity="0.3"/>
<circle cx="548.88" cy="572.11" r="7.5" fill="#56B4E9" fill-opacity="0.3"/>
<circle cx="520.14" cy="593.19" r="7.5" fill="#56B4E9" fill-opacity="0.3"/>
<circle cx="585.95" cy="564.87" r="7.5" fill="#56B4E9" fill-opacity="0.3"/>
<circle cx="509.87" cy="578.23" r="7.5" fill="#56B4E9" fill-opacity="0.3"/>
<circle cx="566.5" cy="574.5" r="7.5" fill="#56B4E9" fill-opacity="0.3"/>
<circle cx="533.33" cy="579.71" r="7.5" fill="#56B4E9" fill-opacity="0.3"/>
<circle cx="607.08" cy="550.65" r="7.5" fill="#56B4E9" fill-opacity="0.3"/>
<circle cx="506.17" cy="600.17" r="7.5" fill="#56B4E9" fill-opacity="0.3"/>
<circle cx="557.45" cy="575.43" r="7.5" fill="#56B4E9" fill-opacity="0.3"/>
<circle cx="526.41" cy="577.53" r="7.5" fill="#56B4E9" fill-opacity="0.3"/>
<circle cx="596.31" cy="563.63" r="7.5" fill="#56B4E9" fill-opacity="0.3"/>
<circle cx="514.59" cy="586.59" r="7.5" fill="#56B4E9" fill-opacity="0.3"/>
<circle cx="576" cy="562.47" r="7.5" fill="#56B4E9" fill-opacity="0.3"/>
<circle cx="540.83" cy="583.39" r="7.5" fill="#56B4E9" fill-opacity="0.3"/>
<circle cx="618.23" cy="550.08" r="7.5" fill="#56B4E9" fill-opacity="0.3"/>
<circle cx="504.81" cy="575.78" r="7.5" fill="#56B4E9" fill-opacity="0.3"/>
<circle cx="553.11" cy="584.79" r="7.5" fill="#56B4E9" fill-opacity="0.3"/>
<circle cx="523.19" cy="591.53" r="7.5" fill="#56B4E9" fill-opacity="0.3"/>
<circle cx="591.08" cy="559.81" r="7.5" fill="#56B4E9" fill-opacity="0.3"/>
<circle cx="512.12" cy="598.65" r="7.5" fill="#56B4E9" fill-opacity="0.3"/>
<circle cx="571.2" cy="570.53" r="7.5" fill="#56B4E9" fill-opacity="0.3"/>
<circle cx="537.01" cy="573.53" r="7.5" fill="#56B4E9" fill-opacity="0.3"/>
<circle cx="612.61" cy="555.44" r="7.5" fill="#56B4E9" fill-opacity="0.3"/>
<circle cx="507.88" cy="588.05" r="7.5" fill="#56B4E9" fill-opacity="0.3"/>
<circle cx="561.92" cy="566.17" r="7.5" fill="#56B4E9" fill-opacity="0.3"/>
<circle cx="529.79" cy="592.38" r="7.5" fill="#56B4E9" fill-opacity="0.3"/>
<circle cx="601.65" cy="559.55" r="7.5" fill="#56B4E9" fill-opacity="0.3"/>
<circle cx="517.27" cy="581.62" r="7.5" fill="#56B4E9" fill-opacity="0.3"/>
<circle cx="580.92" cy="571.27" r="7.5" fill="#56B4E9" fill-opacity="0.3"/>
<circle cx="544.79" cy="578.09" r="7.5" fill="#56B4E9" fill-opacity="0.3"/>
<circle cx="623.95" cy="547.08" r="7.5" fill="#56B4E9" fill-opacity="0.3"/>
<circle cx="504.3" cy="595.87" r="7.5" fill="#56B4E9" fill-opacity="0.3"/>
<circle cx="550.98" cy="575.12" r="7.5" fill="#56B4E9" fill-opacity="0.3"/>
<circle cx="521.64" cy="573.96" r="7.5" fill="#56B4E9" fill-opacity="0.3"/>
<circle cx="588.5" cy="567.95" r="7.5" fill="#56B4E9" fill-opacity="0.3"/>
<circle cx="510.97" cy="590.44" r="7.5" fill="#56B4E9" fill-opacity="0.3"/>
<circle cx="568.83" cy="565.96" r="7.5" fill="#56B4E9" fill-opacity="0.3"/>
<circle cx="535.15" cy="587.74" r="7.5" fill="#56B4E9" fill-opacity="0.3"/>
<circle cx="609.83" cy="554.96" r="7.5" fill="#56B4E9" fill-opacity="0.3"/>
<circle cx="506.99" cy="579.98" r="7.5" fill="#56B4E9" fill-opacity="0.3"/>
<circle cx="559.67" cy="576.63" r="7.5" fill="#56B4E9" fill-opacity="0.3"/>
<circle cx="528.08" cy="580.5" r="7.5" fill="#56B4E9" fill-opacity="0.3"/>
<circle cx="598.97" cy="553.73" r="7.5" fill="#56B4E9" fill-opacity="0.3"/>
<circle cx="515.91" cy="596.47" r="7.5" fill="#56B4E9" fill-opacity="0.3"/>
<circle cx="578.45" cy="568.35" r="7.5" fill="#56B4E9" fill-opacity="0.3"/>
<circle cx="542.8" cy="574.85" r="7.5" fill="#56B4E9" fill-opacity="0.3"/>
<circle cx="621.08" cy="552.7" r="7.5" fill="#56B4E9" fill-opacity="0.3"/>
<circle cx="505.44" cy="589.38" r="7.5" fill="#56B4E9" fill-opacity="0.3"/>
<circle cx="555.26" cy="569.43" r="7.5" fill="#56B4E9" fill-opacity="0.3"/>
<circle cx="524.78" cy="590" r="7.5" fill="#56B4E9" fill-opacity="0.3"/>
<circle cx="593.68" cy="560.29" r="7.5" fill="#56B4E9" fill-opacity="0.3"/>
<circle cx="513.33" cy="577.58" r="7.5" fill="#56B4E9" fill-opacity="0.3"/>
<circle cx="573.59" cy="576.04" r="7.5" fill="#56B4E9" fill-opacity="0.3"/>
<circle cx="538.9" cy="582.5" r="7.5" fill="#56B4E9" fill-opacity="0.3"/>
<circle cx="615.41" cy="550.41" r="7.5" fill="#56B4E9" fill-opacity="0.3"/>
<circle cx="508.84" cy="597.51" r="7.5" fill="#56B4E9" fill-opacity="0.3"/>
<circle cx="564.19" cy="573.57" r="7.5" fill="#56B4E9" fill-opacity="0.3"/>
<circle cx="531.54" cy="575.53" r="7.5" fill="#56B4E9" fill-opacity="0.3"/>
<circle cx="604.35" cy="559.13" r="7.5" fill="#56B4E9" fill-opacity="0.3"/>
<circle cx="518.68" cy="584.54" r="7.5" fill="#56B4E9" fill-opacity="0.3"/>
<circle cx="583.42" cy="557.85" r="7.5" fill="#56B4E9" fill-opacity="0.3"/>
<circle cx="546.82" cy="584.69" r="7.5" fill="#56B4E9" fill-opacity="0.3"/>
<circle cx="626.84" cy="546.22" r="7.5" fill="#56B4E9" fill-opacity="0.3"/>
<circle cx="503.88" cy="582.45" r="7.5" fill="#56B4E9" fill-opacity="0.3"/>
<circle cx="548.37" cy="583.7" r="7.5" fill="#56B4E9" fill-opacity="0.3"/>
<circle cx="519.77" cy="585.71" r="7.5" fill="#56B4E9" fill-opacity="0.3"/>
<circle cx="585.31" cy="561.66" r="7.5" fill="#56B4E9" fill-opacity="0.3"/>
<circle cx="509.61" cy="594.12" r="7.5" fill="#56B4E9" fill-opacity="0.3"/>
<circle cx="565.92" cy="569.53" r="7.5" fill="#56B4E9" fill-opacity="0.3"/>
<circle cx="532.88" cy="569.6" r="7.5" fill="#56B4E9" fill-opacity="0.3"/>
<circle cx="606.39" cy="559.32" r="7.5" fill="#56B4E9" fill-opacity="0.3"/>
<circle cx="505.98" cy="593.14" r="7.5" fill="#56B4E9" fill-opacity="0.3"/>
<circle cx="556.9" cy="571.19" r="7.5" fill="#56B4E9" fill-opacity="0.3"/>
<circle cx="526" cy="591.46" r="7.5" fill="#56B4E9" fill-opacity="0.3"/>
<circle cx="595.65" cy="559.46" r="7.5" fill="#56B4E9" fill-opacity="0.3"/>
<circle cx="514.27" cy="579.96" r="7.5" fill="#56B4E9" fill-opacity="0.3"/>
<circle cx="575.4" cy="572.17" r="7.5" fill="#56B4E9" fill-opacity="0.3"/>
<circle cx="540.35" cy="579.16" r="7.5" fill="#56B4E9" fill-opacity="0.3"/>
<circle cx="617.52" cy="547.18" r="7.5" fill="#56B4E9" fill-opacity="0.3"/>
<circle cx="504.67" cy="599.79" r="7.5" fill="#56B4E9" fill-opacity="0.3"/>
<circle cx="552.57" cy="577.8" r="7.5" fill="#56B4E9" fill-opacity="0.3"/>
<circle cx="522.8" cy="580.02" r="7.5" fill="#56B4E9" fill-opacity="0.3"/>
<circle cx="590.43" cy="565.86" r="7.5" fill="#56B4E9" fill-opacity="0.3"/>
<circle cx="511.83" cy="588.14" r="7.5" fill="#56B4E9" fill-opacity="0.3"/>
<circle cx="570.6" cy="564.15" r="7.5" fill="#56B4E9" fill-opacity="0.3"/>
<circle cx="505.75" cy="540.38" r="7.5" fill="#56B4E9" fill-opacity="0.3"/>
<circle cx="511.45" cy="547.9" r="7.5" fill="#56B4E9" fill-opacity="0.3"/>
<circle cx="503.85" cy="556.92" r="7.5" fill="#56B4E9" fill-opacity="0.3"/>
<circle cx="519.05" cy="650.65" r="7.5" fill="#56B4E9" fill-opacity="0.3"/>
<circle cx="548.5" cy="669.69" r="7.5" fill="#56B4E9" fill-opacity="0.3"/>
<line x1="444" y1="654.15" x2="740.4" y2="497.78" stroke="#000" stroke-width="4.05" stroke-dasharray="13.9 12.9"/>
</g>
<rect x="445.4" y="523.96" width="238.9" height="188.45" fill="none" stroke="#333333" stroke-width="2.5"/>
<rect x="445.4" y="490.16" width="238.9" height="33.8" fill="#fff" stroke="#333333" stroke-width="2.5"/>
<line x1="444.4" x2="685.3" y1="524.36" y2="524.36" stroke="#333333" stroke-width="3.5"/>
<text transform="translate(564.55 515.96) scale(1 0.98)" font-size="24.4" text-anchor="middle" fill="#1a1a1a" stroke="#1a1a1a" stroke-width="0.6">low</text>
<line x1="435.9" x2="445.4" y1="673.2" y2="673.2" stroke="#333333" stroke-width="3.8"/>
<text transform="translate(428.8 682.4) scale(1 1.02)" font-size="25.1" text-anchor="end" fill="#4d4d4d" stroke="#4d4d4d" stroke-width="0.7">10</text>
<line x1="435.9" x2="445.4" y1="623.08" y2="623.08" stroke="#333333" stroke-width="3.8"/>
<text transform="translate(428.8 632.28) scale(1 1.02)" font-size="25.1" text-anchor="end" fill="#4d4d4d" stroke="#4d4d4d" stroke-width="0.7">20</text>
<line x1="435.9" x2="445.4" y1="572.96" y2="572.96" stroke="#333333" stroke-width="3.8"/>
<text transform="translate(428.8 582.16) scale(1 1.02)" font-size="25.1" text-anchor="end" fill="#4d4d4d" stroke="#4d4d4d" stroke-width="0.7">30</text>
<line x1="455.4" x2="455.4" y1="712.41" y2="722.01" stroke="#333333" stroke-width="3.8"/>
<text transform="translate(455.4 747.21) scale(1 1.02)" font-size="25.1" text-anchor="middle" fill="#4d4d4d" stroke="#4d4d4d" stroke-width="0.7">15</text>
<line x1="502.9" x2="502.9" y1="712.41" y2="722.01" stroke="#333333" stroke-width="3.8"/>
<text transform="translate(502.9 747.21) scale(1 1.02)" font-size="25.1" text-anchor="middle" fill="#4d4d4d" stroke="#4d4d4d" stroke-width="0.7">20</text>
<line x1="550.4" x2="550.4" y1="712.41" y2="722.01" stroke="#333333" stroke-width="3.8"/>
<text transform="translate(550.4 747.21) scale(1 1.02)" font-size="25.1" text-anchor="middle" fill="#4d4d4d" stroke="#4d4d4d" stroke-width="0.7">25</text>
<line x1="597.9" x2="597.9" y1="712.41" y2="722.01" stroke="#333333" stroke-width="3.8"/>
<text transform="translate(597.9 747.21) scale(1 1.02)" font-size="25.1" text-anchor="middle" fill="#4d4d4d" stroke="#4d4d4d" stroke-width="0.7">30</text>
<line x1="645.4" x2="645.4" y1="712.41" y2="722.01" stroke="#333333" stroke-width="3.8"/>
<text transform="translate(645.4 747.21) scale(1 1.02)" font-size="25.1" text-anchor="middle" fill="#4d4d4d" stroke="#4d4d4d" stroke-width="0.7">35</text>
<text transform="translate(564.85 783.7) scale(1 1.07)" font-size="28.1" text-anchor="middle" fill="#000" stroke="#000" stroke-width="0.6">True (all subjects)</text>
<text transform="translate(383.6 377) rotate(-90) scale(1 1.07)" font-size="28.1" text-anchor="middle" fill="#000" stroke="#000" stroke-width="0.6">Estimate (fitted subset)</text>
<text transform="translate(354.9 23.2)" font-size="34" text-anchor="start" fill="#000" font-weight="bold">b</text>
</svg>
</body></html>
